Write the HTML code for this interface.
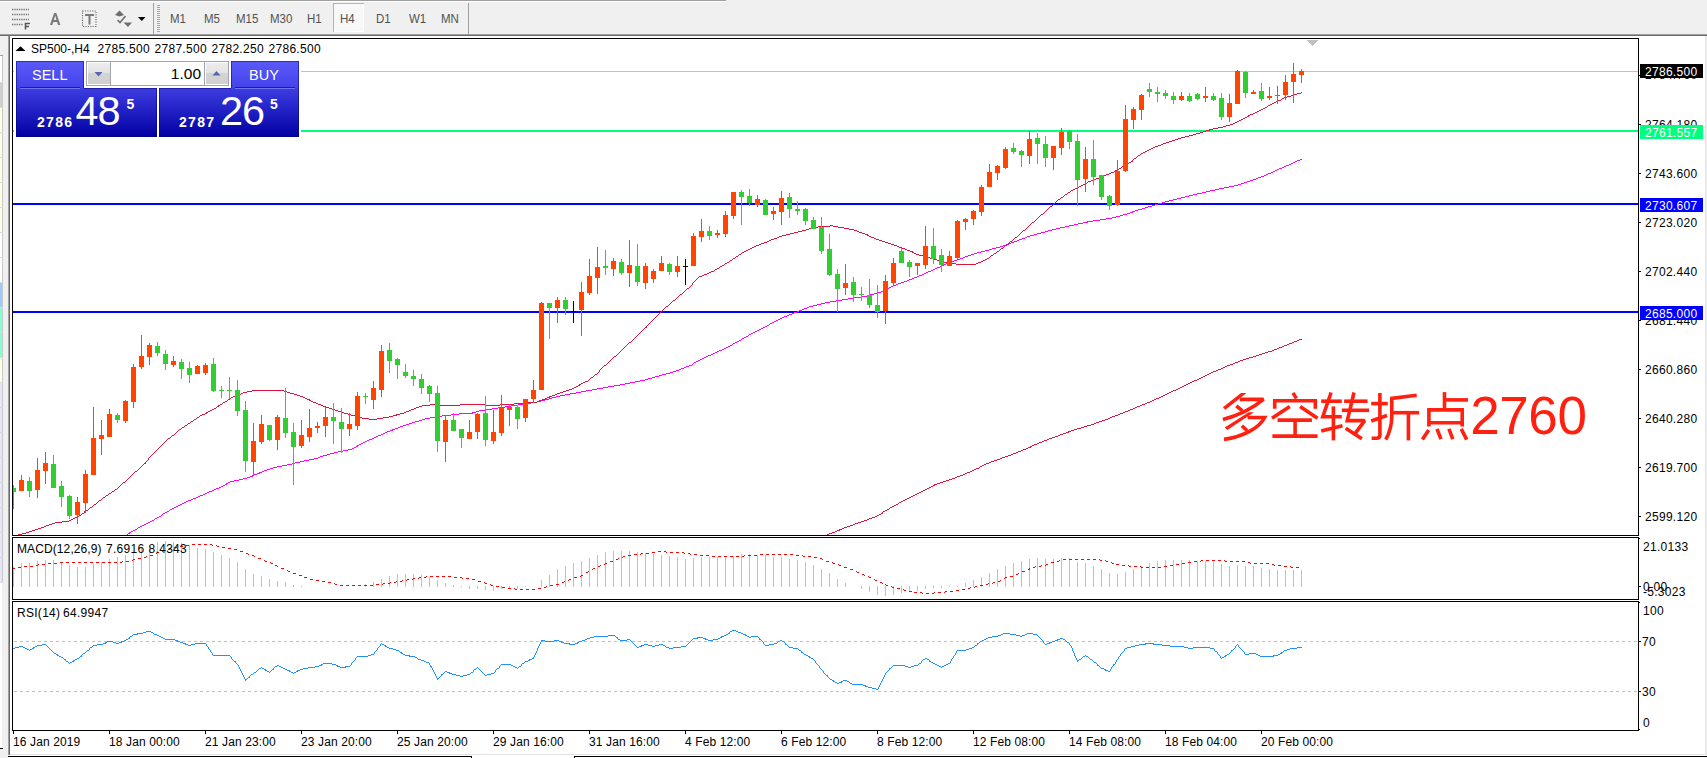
<!DOCTYPE html>
<html><head><meta charset="utf-8"><title>SP500-,H4</title>
<style>
html,body{margin:0;padding:0;background:#fff;}
body{width:1707px;height:758px;position:relative;overflow:hidden;font-family:"Liberation Sans",sans-serif;}
.abs{position:absolute;}
.t{position:absolute;white-space:nowrap;line-height:14px;font-family:"Liberation Sans",sans-serif;}
.ax{letter-spacing:0.29px;}
.bx{letter-spacing:0.29px;position:absolute;left:1640px;width:63px;color:#fff;font-size:12px;line-height:14px;}
.bx span{position:absolute;left:5px;top:1px;white-space:nowrap;}
#chart{position:absolute;left:0;top:0;}
.tb{position:absolute;top:0;height:22px;line-height:22px;font-size:12px;color:#555;text-align:center;}
</style></head>
<body>
<!-- toolbar -->
<div class="abs" style="left:0;top:0;width:1707px;height:34px;background:#f0f0f0"></div>
<div class="abs" style="left:0;top:0;width:726px;height:1px;background:#a0a0a0"></div>
<div class="abs" style="left:0;top:1px;width:726px;height:1px;background:#fff"></div>
<div class="abs" style="left:0;top:34px;width:1707px;height:1px;background:#a0a0a0"></div>
<div class="abs" style="left:0;top:35px;width:1707px;height:1px;background:#696969"></div>
<!-- left strip -->
<div class="abs" style="left:0;top:36px;width:8px;height:722px;background:#f0f0f0"></div>
<div class="abs" style="left:8px;top:36px;width:1px;height:720px;background:#a0a0a0"></div>
<div class="abs" style="left:9px;top:36px;width:1px;height:720px;background:#696969"></div>
<div class="abs" style="left:0;top:55px;width:3px;height:1px;background:#a0a0a0"></div>
<div class="abs" style="left:2px;top:56px;width:1px;height:527px;background:#c8c8c8"></div>
<div class="abs" style="left:0;top:583px;width:2px;height:165px;background:#fff"></div>
<div class="abs" style="left:0;top:56px;width:2px;height:26px;background:#fff"></div>
<div class="abs" style="left:0;top:82px;width:3px;height:1px;background:#d8d8d8"></div>
<div class="abs" style="left:0;top:83px;width:2px;height:24px;background:#d0d0d0"></div>
<div class="abs" style="left:0;top:107px;width:3px;height:1px;background:#d8d8d8"></div>
<div class="abs" style="left:0;top:108px;width:2px;height:24px;background:#ffffe1"></div>
<div class="abs" style="left:0;top:132px;width:3px;height:1px;background:#d8d8d8"></div>
<div class="abs" style="left:0;top:133px;width:2px;height:24px;background:#ffffe1"></div>
<div class="abs" style="left:0;top:157px;width:3px;height:1px;background:#d8d8d8"></div>
<div class="abs" style="left:0;top:158px;width:2px;height:24px;background:#ffffe1"></div>
<div class="abs" style="left:0;top:182px;width:3px;height:1px;background:#d8d8d8"></div>
<div class="abs" style="left:0;top:183px;width:2px;height:24px;background:#ffffe1"></div>
<div class="abs" style="left:0;top:207px;width:3px;height:1px;background:#d8d8d8"></div>
<div class="abs" style="left:0;top:208px;width:2px;height:24px;background:#ffffe1"></div>
<div class="abs" style="left:0;top:232px;width:3px;height:1px;background:#d8d8d8"></div>
<div class="abs" style="left:0;top:233px;width:2px;height:24px;background:#fff"></div>
<div class="abs" style="left:0;top:257px;width:3px;height:1px;background:#d8d8d8"></div>
<div class="abs" style="left:0;top:258px;width:2px;height:24px;background:#fff"></div>
<div class="abs" style="left:0;top:282px;width:3px;height:1px;background:#d8d8d8"></div>
<div class="abs" style="left:0;top:283px;width:2px;height:24px;background:#99ccff"></div>
<div class="abs" style="left:0;top:307px;width:3px;height:1px;background:#d8d8d8"></div>
<div class="abs" style="left:0;top:308px;width:2px;height:24px;background:#7fffd4"></div>
<div class="abs" style="left:0;top:332px;width:3px;height:1px;background:#d8d8d8"></div>
<div class="abs" style="left:0;top:333px;width:2px;height:24px;background:#7fffd4"></div>
<div class="abs" style="left:0;top:357px;width:3px;height:1px;background:#d8d8d8"></div>
<div class="abs" style="left:0;top:358px;width:2px;height:24px;background:#ffffe1"></div>
<div class="abs" style="left:0;top:382px;width:3px;height:1px;background:#d8d8d8"></div>
<div class="abs" style="left:0;top:383px;width:2px;height:24px;background:#e6e6fa"></div>
<div class="abs" style="left:0;top:407px;width:3px;height:1px;background:#d8d8d8"></div>
<div class="abs" style="left:0;top:408px;width:2px;height:24px;background:#e6e6fa"></div>
<div class="abs" style="left:0;top:432px;width:3px;height:1px;background:#d8d8d8"></div>
<div class="abs" style="left:0;top:433px;width:2px;height:24px;background:#e6e6fa"></div>
<div class="abs" style="left:0;top:457px;width:3px;height:1px;background:#d8d8d8"></div>
<div class="abs" style="left:0;top:458px;width:2px;height:24px;background:#e6e6fa"></div>
<div class="abs" style="left:0;top:482px;width:3px;height:1px;background:#d8d8d8"></div>
<div class="abs" style="left:0;top:483px;width:2px;height:24px;background:#e6e6fa"></div>
<div class="abs" style="left:0;top:507px;width:3px;height:1px;background:#d8d8d8"></div>
<div class="abs" style="left:0;top:508px;width:2px;height:24px;background:#e6e6fa"></div>
<div class="abs" style="left:0;top:532px;width:3px;height:1px;background:#d8d8d8"></div>
<div class="abs" style="left:0;top:533px;width:2px;height:24px;background:#e6e6fa"></div>
<div class="abs" style="left:0;top:557px;width:3px;height:1px;background:#d8d8d8"></div>
<div class="abs" style="left:0;top:558px;width:2px;height:24px;background:#e6e6fa"></div>
<div class="abs" style="left:0;top:582px;width:3px;height:1px;background:#d8d8d8"></div>
<div class="abs" style="left:0;top:748px;width:3px;height:1px;background:#000"></div>
<!-- right/bottom borders -->
<div class="abs" style="left:1705px;top:36px;width:1px;height:719px;background:#e3e3e3"></div>
<div class="abs" style="left:1706px;top:36px;width:1px;height:719px;background:#f0f0f0"></div>
<div class="abs" style="left:10px;top:754px;width:1696px;height:1px;background:#e3e3e3"></div>
<div class="abs" style="left:8px;top:755px;width:1699px;height:3px;background:#fff"></div>
<div class="abs" style="left:8px;top:756px;width:464px;height:1px;background:#000"></div>
<div class="abs" style="left:574px;top:756px;width:1133px;height:1px;background:#000"></div>
<div class="abs" style="left:471px;top:756px;width:1px;height:2px;background:#000"></div>
<div class="abs" style="left:574px;top:756px;width:1px;height:2px;background:#000"></div>
<svg id="chart" width="1707" height="758" viewBox="0 0 1707 758" shape-rendering="crispEdges">
<rect x="13" y="71" width="1625" height="1" fill="#c0c0c0"/>
<rect x="13" y="130" width="1625" height="2" fill="#00ff7f"/>
<rect x="13" y="203" width="1625" height="2" fill="#0000ff"/>
<rect x="13" y="311" width="1625" height="2" fill="#0000ff"/>
<rect x="13" y="567" width="1" height="20" fill="#c0c0c0"/>
<rect x="21" y="563" width="1" height="24" fill="#c0c0c0"/>
<rect x="29" y="563" width="1" height="24" fill="#c0c0c0"/>
<rect x="37" y="561" width="1" height="26" fill="#c0c0c0"/>
<rect x="45" y="560" width="1" height="27" fill="#c0c0c0"/>
<rect x="53" y="560" width="1" height="27" fill="#c0c0c0"/>
<rect x="61" y="563" width="1" height="24" fill="#c0c0c0"/>
<rect x="69" y="565" width="1" height="22" fill="#c0c0c0"/>
<rect x="77" y="567" width="1" height="20" fill="#c0c0c0"/>
<rect x="85" y="567" width="1" height="20" fill="#c0c0c0"/>
<rect x="93" y="564" width="1" height="23" fill="#c0c0c0"/>
<rect x="101" y="562" width="1" height="25" fill="#c0c0c0"/>
<rect x="109" y="559" width="1" height="28" fill="#c0c0c0"/>
<rect x="117" y="557" width="1" height="30" fill="#c0c0c0"/>
<rect x="125" y="555" width="1" height="32" fill="#c0c0c0"/>
<rect x="133" y="552" width="1" height="35" fill="#c0c0c0"/>
<rect x="141" y="549" width="1" height="38" fill="#c0c0c0"/>
<rect x="149" y="545" width="1" height="42" fill="#c0c0c0"/>
<rect x="157" y="542" width="1" height="45" fill="#c0c0c0"/>
<rect x="165" y="541" width="1" height="46" fill="#c0c0c0"/>
<rect x="173" y="542" width="1" height="45" fill="#c0c0c0"/>
<rect x="181" y="543" width="1" height="44" fill="#c0c0c0"/>
<rect x="189" y="545" width="1" height="42" fill="#c0c0c0"/>
<rect x="197" y="548" width="1" height="39" fill="#c0c0c0"/>
<rect x="205" y="549" width="1" height="38" fill="#c0c0c0"/>
<rect x="213" y="552" width="1" height="35" fill="#c0c0c0"/>
<rect x="221" y="555" width="1" height="32" fill="#c0c0c0"/>
<rect x="229" y="558" width="1" height="29" fill="#c0c0c0"/>
<rect x="237" y="562" width="1" height="25" fill="#c0c0c0"/>
<rect x="245" y="569" width="1" height="18" fill="#c0c0c0"/>
<rect x="253" y="574" width="1" height="13" fill="#c0c0c0"/>
<rect x="261" y="576" width="1" height="11" fill="#c0c0c0"/>
<rect x="269" y="579" width="1" height="8" fill="#c0c0c0"/>
<rect x="277" y="581" width="1" height="6" fill="#c0c0c0"/>
<rect x="285" y="582" width="1" height="5" fill="#c0c0c0"/>
<rect x="293" y="585" width="1" height="2" fill="#c0c0c0"/>
<rect x="301" y="586" width="1" height="1" fill="#c0c0c0"/>
<rect x="365" y="584" width="1" height="3" fill="#c0c0c0"/>
<rect x="373" y="582" width="1" height="5" fill="#c0c0c0"/>
<rect x="381" y="579" width="1" height="8" fill="#c0c0c0"/>
<rect x="389" y="576" width="1" height="11" fill="#c0c0c0"/>
<rect x="397" y="574" width="1" height="13" fill="#c0c0c0"/>
<rect x="405" y="574" width="1" height="13" fill="#c0c0c0"/>
<rect x="413" y="574" width="1" height="13" fill="#c0c0c0"/>
<rect x="421" y="575" width="1" height="12" fill="#c0c0c0"/>
<rect x="429" y="577" width="1" height="10" fill="#c0c0c0"/>
<rect x="437" y="580" width="1" height="7" fill="#c0c0c0"/>
<rect x="445" y="583" width="1" height="4" fill="#c0c0c0"/>
<rect x="453" y="585" width="1" height="2" fill="#c0c0c0"/>
<rect x="461" y="586" width="1" height="1" fill="#c0c0c0"/>
<rect x="469" y="586" width="1" height="3" fill="#c0c0c0"/>
<rect x="477" y="586" width="1" height="3" fill="#c0c0c0"/>
<rect x="485" y="586" width="1" height="4" fill="#c0c0c0"/>
<rect x="493" y="586" width="1" height="5" fill="#c0c0c0"/>
<rect x="501" y="586" width="1" height="3" fill="#c0c0c0"/>
<rect x="509" y="586" width="1" height="3" fill="#c0c0c0"/>
<rect x="517" y="586" width="1" height="3" fill="#c0c0c0"/>
<rect x="525" y="586" width="1" height="1" fill="#c0c0c0"/>
<rect x="541" y="580" width="1" height="7" fill="#c0c0c0"/>
<rect x="549" y="575" width="1" height="12" fill="#c0c0c0"/>
<rect x="557" y="569" width="1" height="18" fill="#c0c0c0"/>
<rect x="565" y="566" width="1" height="21" fill="#c0c0c0"/>
<rect x="573" y="563" width="1" height="24" fill="#c0c0c0"/>
<rect x="581" y="561" width="1" height="26" fill="#c0c0c0"/>
<rect x="589" y="558" width="1" height="29" fill="#c0c0c0"/>
<rect x="597" y="555" width="1" height="32" fill="#c0c0c0"/>
<rect x="605" y="552" width="1" height="35" fill="#c0c0c0"/>
<rect x="613" y="551" width="1" height="36" fill="#c0c0c0"/>
<rect x="621" y="551" width="1" height="36" fill="#c0c0c0"/>
<rect x="629" y="551" width="1" height="36" fill="#c0c0c0"/>
<rect x="637" y="552" width="1" height="35" fill="#c0c0c0"/>
<rect x="645" y="553" width="1" height="34" fill="#c0c0c0"/>
<rect x="653" y="554" width="1" height="33" fill="#c0c0c0"/>
<rect x="661" y="555" width="1" height="32" fill="#c0c0c0"/>
<rect x="669" y="556" width="1" height="31" fill="#c0c0c0"/>
<rect x="677" y="557" width="1" height="30" fill="#c0c0c0"/>
<rect x="685" y="559" width="1" height="28" fill="#c0c0c0"/>
<rect x="693" y="558" width="1" height="29" fill="#c0c0c0"/>
<rect x="701" y="557" width="1" height="30" fill="#c0c0c0"/>
<rect x="709" y="557" width="1" height="30" fill="#c0c0c0"/>
<rect x="717" y="557" width="1" height="30" fill="#c0c0c0"/>
<rect x="725" y="556" width="1" height="31" fill="#c0c0c0"/>
<rect x="733" y="556" width="1" height="31" fill="#c0c0c0"/>
<rect x="741" y="554" width="1" height="33" fill="#c0c0c0"/>
<rect x="749" y="554" width="1" height="33" fill="#c0c0c0"/>
<rect x="757" y="555" width="1" height="32" fill="#c0c0c0"/>
<rect x="765" y="555" width="1" height="32" fill="#c0c0c0"/>
<rect x="773" y="557" width="1" height="30" fill="#c0c0c0"/>
<rect x="781" y="557" width="1" height="30" fill="#c0c0c0"/>
<rect x="789" y="559" width="1" height="28" fill="#c0c0c0"/>
<rect x="797" y="560" width="1" height="27" fill="#c0c0c0"/>
<rect x="805" y="562" width="1" height="25" fill="#c0c0c0"/>
<rect x="813" y="565" width="1" height="22" fill="#c0c0c0"/>
<rect x="821" y="569" width="1" height="18" fill="#c0c0c0"/>
<rect x="829" y="573" width="1" height="14" fill="#c0c0c0"/>
<rect x="837" y="579" width="1" height="8" fill="#c0c0c0"/>
<rect x="845" y="583" width="1" height="4" fill="#c0c0c0"/>
<rect x="861" y="586" width="1" height="3" fill="#c0c0c0"/>
<rect x="869" y="586" width="1" height="6" fill="#c0c0c0"/>
<rect x="877" y="586" width="1" height="9" fill="#c0c0c0"/>
<rect x="885" y="586" width="1" height="10" fill="#c0c0c0"/>
<rect x="893" y="586" width="1" height="9" fill="#c0c0c0"/>
<rect x="901" y="586" width="1" height="7" fill="#c0c0c0"/>
<rect x="909" y="586" width="1" height="6" fill="#c0c0c0"/>
<rect x="917" y="586" width="1" height="5" fill="#c0c0c0"/>
<rect x="925" y="586" width="1" height="3" fill="#c0c0c0"/>
<rect x="933" y="586" width="1" height="2" fill="#c0c0c0"/>
<rect x="941" y="586" width="1" height="2" fill="#c0c0c0"/>
<rect x="949" y="586" width="1" height="1" fill="#c0c0c0"/>
<rect x="957" y="586" width="1" height="1" fill="#c0c0c0"/>
<rect x="965" y="583" width="1" height="4" fill="#c0c0c0"/>
<rect x="973" y="580" width="1" height="7" fill="#c0c0c0"/>
<rect x="981" y="577" width="1" height="10" fill="#c0c0c0"/>
<rect x="989" y="573" width="1" height="14" fill="#c0c0c0"/>
<rect x="997" y="569" width="1" height="18" fill="#c0c0c0"/>
<rect x="1005" y="566" width="1" height="21" fill="#c0c0c0"/>
<rect x="1013" y="563" width="1" height="24" fill="#c0c0c0"/>
<rect x="1021" y="561" width="1" height="26" fill="#c0c0c0"/>
<rect x="1029" y="559" width="1" height="28" fill="#c0c0c0"/>
<rect x="1037" y="558" width="1" height="29" fill="#c0c0c0"/>
<rect x="1045" y="559" width="1" height="28" fill="#c0c0c0"/>
<rect x="1053" y="559" width="1" height="28" fill="#c0c0c0"/>
<rect x="1061" y="558" width="1" height="29" fill="#c0c0c0"/>
<rect x="1069" y="558" width="1" height="29" fill="#c0c0c0"/>
<rect x="1077" y="562" width="1" height="25" fill="#c0c0c0"/>
<rect x="1085" y="563" width="1" height="24" fill="#c0c0c0"/>
<rect x="1093" y="566" width="1" height="21" fill="#c0c0c0"/>
<rect x="1101" y="569" width="1" height="18" fill="#c0c0c0"/>
<rect x="1109" y="573" width="1" height="14" fill="#c0c0c0"/>
<rect x="1117" y="574" width="1" height="13" fill="#c0c0c0"/>
<rect x="1125" y="572" width="1" height="15" fill="#c0c0c0"/>
<rect x="1133" y="569" width="1" height="18" fill="#c0c0c0"/>
<rect x="1141" y="566" width="1" height="21" fill="#c0c0c0"/>
<rect x="1149" y="563" width="1" height="24" fill="#c0c0c0"/>
<rect x="1157" y="561" width="1" height="26" fill="#c0c0c0"/>
<rect x="1165" y="560" width="1" height="27" fill="#c0c0c0"/>
<rect x="1173" y="560" width="1" height="27" fill="#c0c0c0"/>
<rect x="1181" y="560" width="1" height="27" fill="#c0c0c0"/>
<rect x="1189" y="560" width="1" height="27" fill="#c0c0c0"/>
<rect x="1197" y="561" width="1" height="26" fill="#c0c0c0"/>
<rect x="1205" y="561" width="1" height="26" fill="#c0c0c0"/>
<rect x="1213" y="562" width="1" height="25" fill="#c0c0c0"/>
<rect x="1221" y="564" width="1" height="23" fill="#c0c0c0"/>
<rect x="1229" y="566" width="1" height="21" fill="#c0c0c0"/>
<rect x="1237" y="565" width="1" height="22" fill="#c0c0c0"/>
<rect x="1245" y="566" width="1" height="21" fill="#c0c0c0"/>
<rect x="1253" y="566" width="1" height="21" fill="#c0c0c0"/>
<rect x="1261" y="568" width="1" height="19" fill="#c0c0c0"/>
<rect x="1269" y="569" width="1" height="18" fill="#c0c0c0"/>
<rect x="1277" y="570" width="1" height="17" fill="#c0c0c0"/>
<rect x="1285" y="570" width="1" height="17" fill="#c0c0c0"/>
<rect x="1293" y="570" width="1" height="17" fill="#c0c0c0"/>
<rect x="1301" y="570" width="1" height="17" fill="#c0c0c0"/>
<path d="M192 544h3v1h-3zM198 544h3v1h-3zM204 544h3v1h-3zM210 544h2v1h-2zM186 545h3v1h-3zM212 545h1v1h-1zM216 545h1v1h-1zM180 546h3v1h-3zM217 546h2v1h-2zM174 547h3v1h-3zM222 547h3v1h-3zM170 548h1v1h-1zM228 548h3v1h-3zM168 549h2v1h-2zM234 549h3v1h-3zM163 550h2v1h-2zM162 551h1v1h-1zM240 551h3v1h-3zM658 551h3v1h-3zM664 551h2v1h-2zM157 552h2v1h-2zM652 552h3v1h-3zM666 552h1v1h-1zM670 552h3v1h-3zM676 552h3v1h-3zM682 552h2v1h-2zM156 553h1v1h-1zM246 553h2v1h-2zM641 553h2v1h-2zM646 553h3v1h-3zM684 553h1v1h-1zM688 553h2v1h-2zM248 554h1v1h-1zM634 554h3v1h-3zM640 554h1v1h-1zM690 554h1v1h-1zM694 554h3v1h-3zM760 554h3v1h-3zM766 554h3v1h-3zM772 554h3v1h-3zM778 554h3v1h-3zM784 554h3v1h-3zM790 554h3v1h-3zM150 555h3v1h-3zM252 555h2v1h-2zM628 555h3v1h-3zM700 555h3v1h-3zM706 555h3v1h-3zM744 555h1v1h-1zM748 555h3v1h-3zM754 555h3v1h-3zM796 555h3v1h-3zM802 555h1v1h-1zM146 556h1v1h-1zM254 556h1v1h-1zM623 556h2v1h-2zM712 556h3v1h-3zM718 556h3v1h-3zM724 556h3v1h-3zM730 556h3v1h-3zM736 556h3v1h-3zM742 556h2v1h-2zM803 556h2v1h-2zM808 556h3v1h-3zM144 557h2v1h-2zM622 557h1v1h-1zM814 557h3v1h-3zM138 558h3v1h-3zM258 558h3v1h-3zM618 558h1v1h-1zM820 558h2v1h-2zM133 559h2v1h-2zM616 559h2v1h-2zM822 559h1v1h-1zM1063 559h3v1h-3zM1069 559h3v1h-3zM1075 559h3v1h-3zM1081 559h3v1h-3zM1087 559h3v1h-3zM1093 559h3v1h-3zM1099 559h1v1h-1zM132 560h1v1h-1zM264 560h1v1h-1zM1059 560h1v1h-1zM1100 560h2v1h-2zM1105 560h1v1h-1zM1201 560h2v1h-2zM1206 560h3v1h-3zM1212 560h3v1h-3zM1218 560h3v1h-3zM1224 560h1v1h-1zM122 561h1v1h-1zM126 561h3v1h-3zM265 561h2v1h-2zM610 561h3v1h-3zM826 561h3v1h-3zM1057 561h2v1h-2zM1106 561h2v1h-2zM1194 561h3v1h-3zM1200 561h1v1h-1zM1225 561h2v1h-2zM1230 561h3v1h-3zM1236 561h3v1h-3zM1242 561h3v1h-3zM60 562h3v1h-3zM66 562h3v1h-3zM72 562h3v1h-3zM78 562h3v1h-3zM84 562h3v1h-3zM90 562h3v1h-3zM96 562h3v1h-3zM102 562h3v1h-3zM108 562h3v1h-3zM114 562h3v1h-3zM120 562h2v1h-2zM270 562h1v1h-1zM832 562h1v1h-1zM1051 562h3v1h-3zM1111 562h1v1h-1zM1188 562h3v1h-3zM1248 562h2v1h-2zM48 563h3v1h-3zM54 563h3v1h-3zM271 563h2v1h-2zM605 563h2v1h-2zM833 563h2v1h-2zM1112 563h2v1h-2zM1182 563h3v1h-3zM1250 563h1v1h-1zM1254 563h3v1h-3zM1260 563h3v1h-3zM1266 563h3v1h-3zM38 564h1v1h-1zM42 564h3v1h-3zM604 564h1v1h-1zM838 564h1v1h-1zM1046 564h2v1h-2zM1116 564h3v1h-3zM1176 564h3v1h-3zM1272 564h2v1h-2zM36 565h2v1h-2zM275 565h2v1h-2zM600 565h1v1h-1zM839 565h2v1h-2zM1041 565h1v1h-1zM1045 565h1v1h-1zM1122 565h3v1h-3zM1128 565h1v1h-1zM1170 565h3v1h-3zM1274 565h1v1h-1zM1278 565h3v1h-3zM24 566h3v1h-3zM30 566h3v1h-3zM277 566h1v1h-1zM598 566h2v1h-2zM1035 566h1v1h-1zM1039 566h2v1h-2zM1129 566h2v1h-2zM1134 566h3v1h-3zM1140 566h1v1h-1zM1164 566h3v1h-3zM1284 566h3v1h-3zM1290 566h1v1h-1zM18 567h3v1h-3zM844 567h3v1h-3zM1033 567h2v1h-2zM1141 567h2v1h-2zM1146 567h3v1h-3zM1152 567h3v1h-3zM1158 567h3v1h-3zM1291 567h2v1h-2zM1296 567h3v1h-3zM13 568h2v1h-2zM281 568h3v1h-3zM593 568h2v1h-2zM1029 568h1v1h-1zM592 569h1v1h-1zM850 569h3v1h-3zM1028 569h2v1h-2zM287 570h1v1h-1zM288 571h2v1h-2zM588 571h1v1h-1zM856 571h1v1h-1zM1022 571h3v1h-3zM586 572h2v1h-2zM857 572h2v1h-2zM293 573h3v1h-3zM1018 573h1v1h-1zM862 574h2v1h-2zM1016 574h2v1h-2zM299 575h3v1h-3zM581 575h2v1h-2zM864 575h1v1h-1zM426 576h1v1h-1zM430 576h3v1h-3zM436 576h3v1h-3zM442 576h3v1h-3zM448 576h3v1h-3zM580 576h1v1h-1zM868 576h1v1h-1zM1010 576h3v1h-3zM304 577h3v1h-3zM419 577h2v1h-2zM424 577h2v1h-2zM454 577h3v1h-3zM460 577h2v1h-2zM574 577h3v1h-3zM869 577h2v1h-2zM1005 577h2v1h-2zM413 578h2v1h-2zM418 578h1v1h-1zM462 578h1v1h-1zM466 578h3v1h-3zM1004 578h1v1h-1zM310 579h3v1h-3zM407 579h2v1h-2zM412 579h1v1h-1zM472 579h3v1h-3zM569 579h2v1h-2zM874 579h1v1h-1zM316 580h3v1h-3zM402 580h1v1h-1zM406 580h1v1h-1zM568 580h1v1h-1zM875 580h2v1h-2zM1000 580h1v1h-1zM322 581h3v1h-3zM396 581h1v1h-1zM400 581h2v1h-2zM478 581h3v1h-3zM564 581h1v1h-1zM998 581h2v1h-2zM328 582h3v1h-3zM390 582h1v1h-1zM394 582h2v1h-2zM484 582h1v1h-1zM562 582h2v1h-2zM880 582h2v1h-2zM993 582h2v1h-2zM334 583h1v1h-1zM383 583h2v1h-2zM388 583h2v1h-2zM485 583h2v1h-2zM882 583h1v1h-1zM988 583h1v1h-1zM992 583h1v1h-1zM335 584h2v1h-2zM376 584h3v1h-3zM382 584h1v1h-1zM490 584h1v1h-1zM556 584h3v1h-3zM885 584h1v1h-1zM986 584h2v1h-2zM340 585h3v1h-3zM346 585h3v1h-3zM352 585h3v1h-3zM358 585h3v1h-3zM364 585h3v1h-3zM370 585h3v1h-3zM491 585h2v1h-2zM550 585h3v1h-3zM886 585h2v1h-2zM980 585h3v1h-3zM496 586h3v1h-3zM546 586h1v1h-1zM891 586h1v1h-1zM975 586h2v1h-2zM502 587h3v1h-3zM544 587h2v1h-2zM892 587h2v1h-2zM970 587h1v1h-1zM974 587h1v1h-1zM508 588h3v1h-3zM514 588h1v1h-1zM538 588h3v1h-3zM897 588h3v1h-3zM968 588h2v1h-2zM515 589h2v1h-2zM520 589h3v1h-3zM526 589h3v1h-3zM532 589h3v1h-3zM903 589h1v1h-1zM962 589h3v1h-3zM904 590h2v1h-2zM956 590h3v1h-3zM909 591h3v1h-3zM945 591h2v1h-2zM950 591h3v1h-3zM914 592h3v1h-3zM920 592h2v1h-2zM934 592h1v1h-1zM938 592h3v1h-3zM944 592h1v1h-1zM922 593h1v1h-1zM926 593h3v1h-3zM932 593h2v1h-2z" fill="#ff0000"/>
<path d="M14 641h3v1h-3zM20 641h3v1h-3zM26 641h3v1h-3zM32 641h3v1h-3zM38 641h3v1h-3zM44 641h3v1h-3zM50 641h3v1h-3zM56 641h3v1h-3zM62 641h3v1h-3zM68 641h3v1h-3zM74 641h3v1h-3zM80 641h3v1h-3zM86 641h3v1h-3zM92 641h3v1h-3zM98 641h3v1h-3zM104 641h3v1h-3zM110 641h3v1h-3zM116 641h3v1h-3zM122 641h3v1h-3zM128 641h3v1h-3zM134 641h3v1h-3zM140 641h3v1h-3zM146 641h3v1h-3zM152 641h3v1h-3zM158 641h3v1h-3zM164 641h3v1h-3zM170 641h3v1h-3zM176 641h3v1h-3zM182 641h3v1h-3zM188 641h3v1h-3zM194 641h3v1h-3zM200 641h3v1h-3zM206 641h3v1h-3zM212 641h3v1h-3zM218 641h3v1h-3zM224 641h3v1h-3zM230 641h3v1h-3zM236 641h3v1h-3zM242 641h3v1h-3zM248 641h3v1h-3zM254 641h3v1h-3zM260 641h3v1h-3zM266 641h3v1h-3zM272 641h3v1h-3zM278 641h3v1h-3zM284 641h3v1h-3zM290 641h3v1h-3zM296 641h3v1h-3zM302 641h3v1h-3zM308 641h3v1h-3zM314 641h3v1h-3zM320 641h3v1h-3zM326 641h3v1h-3zM332 641h3v1h-3zM338 641h3v1h-3zM344 641h3v1h-3zM350 641h3v1h-3zM356 641h3v1h-3zM362 641h3v1h-3zM368 641h3v1h-3zM374 641h3v1h-3zM380 641h3v1h-3zM386 641h3v1h-3zM392 641h3v1h-3zM398 641h3v1h-3zM404 641h3v1h-3zM410 641h3v1h-3zM416 641h3v1h-3zM422 641h3v1h-3zM428 641h3v1h-3zM434 641h3v1h-3zM440 641h3v1h-3zM446 641h3v1h-3zM452 641h3v1h-3zM458 641h3v1h-3zM464 641h3v1h-3zM470 641h3v1h-3zM476 641h3v1h-3zM482 641h3v1h-3zM488 641h3v1h-3zM494 641h3v1h-3zM500 641h3v1h-3zM506 641h3v1h-3zM512 641h3v1h-3zM518 641h3v1h-3zM524 641h3v1h-3zM530 641h3v1h-3zM536 641h3v1h-3zM542 641h3v1h-3zM548 641h3v1h-3zM554 641h3v1h-3zM560 641h3v1h-3zM566 641h3v1h-3zM572 641h3v1h-3zM578 641h3v1h-3zM584 641h3v1h-3zM590 641h3v1h-3zM596 641h3v1h-3zM602 641h3v1h-3zM608 641h3v1h-3zM614 641h3v1h-3zM620 641h3v1h-3zM626 641h3v1h-3zM632 641h3v1h-3zM638 641h3v1h-3zM644 641h3v1h-3zM650 641h3v1h-3zM656 641h3v1h-3zM662 641h3v1h-3zM668 641h3v1h-3zM674 641h3v1h-3zM680 641h3v1h-3zM686 641h3v1h-3zM692 641h3v1h-3zM698 641h3v1h-3zM704 641h3v1h-3zM710 641h3v1h-3zM716 641h3v1h-3zM722 641h3v1h-3zM728 641h3v1h-3zM734 641h3v1h-3zM740 641h3v1h-3zM746 641h3v1h-3zM752 641h3v1h-3zM758 641h3v1h-3zM764 641h3v1h-3zM770 641h3v1h-3zM776 641h3v1h-3zM782 641h3v1h-3zM788 641h3v1h-3zM794 641h3v1h-3zM800 641h3v1h-3zM806 641h3v1h-3zM812 641h3v1h-3zM818 641h3v1h-3zM824 641h3v1h-3zM830 641h3v1h-3zM836 641h3v1h-3zM842 641h3v1h-3zM848 641h3v1h-3zM854 641h3v1h-3zM860 641h3v1h-3zM866 641h3v1h-3zM872 641h3v1h-3zM878 641h3v1h-3zM884 641h3v1h-3zM890 641h3v1h-3zM896 641h3v1h-3zM902 641h3v1h-3zM908 641h3v1h-3zM914 641h3v1h-3zM920 641h3v1h-3zM926 641h3v1h-3zM932 641h3v1h-3zM938 641h3v1h-3zM944 641h3v1h-3zM950 641h3v1h-3zM956 641h3v1h-3zM962 641h3v1h-3zM968 641h3v1h-3zM974 641h3v1h-3zM980 641h3v1h-3zM986 641h3v1h-3zM992 641h3v1h-3zM998 641h3v1h-3zM1004 641h3v1h-3zM1010 641h3v1h-3zM1016 641h3v1h-3zM1022 641h3v1h-3zM1028 641h3v1h-3zM1034 641h3v1h-3zM1040 641h3v1h-3zM1046 641h3v1h-3zM1052 641h3v1h-3zM1058 641h3v1h-3zM1064 641h3v1h-3zM1070 641h3v1h-3zM1076 641h3v1h-3zM1082 641h3v1h-3zM1088 641h3v1h-3zM1094 641h3v1h-3zM1100 641h3v1h-3zM1106 641h3v1h-3zM1112 641h3v1h-3zM1118 641h3v1h-3zM1124 641h3v1h-3zM1130 641h3v1h-3zM1136 641h3v1h-3zM1142 641h3v1h-3zM1148 641h3v1h-3zM1154 641h3v1h-3zM1160 641h3v1h-3zM1166 641h3v1h-3zM1172 641h3v1h-3zM1178 641h3v1h-3zM1184 641h3v1h-3zM1190 641h3v1h-3zM1196 641h3v1h-3zM1202 641h3v1h-3zM1208 641h3v1h-3zM1214 641h3v1h-3zM1220 641h3v1h-3zM1226 641h3v1h-3zM1232 641h3v1h-3zM1238 641h3v1h-3zM1244 641h3v1h-3zM1250 641h3v1h-3zM1256 641h3v1h-3zM1262 641h3v1h-3zM1268 641h3v1h-3zM1274 641h3v1h-3zM1280 641h3v1h-3zM1286 641h3v1h-3zM1292 641h3v1h-3zM1298 641h3v1h-3zM1304 641h3v1h-3zM1310 641h3v1h-3zM1316 641h3v1h-3zM1322 641h3v1h-3zM1328 641h3v1h-3zM1334 641h3v1h-3zM1340 641h3v1h-3zM1346 641h3v1h-3zM1352 641h3v1h-3zM1358 641h3v1h-3zM1364 641h3v1h-3zM1370 641h3v1h-3zM1376 641h3v1h-3zM1382 641h3v1h-3zM1388 641h3v1h-3zM1394 641h3v1h-3zM1400 641h3v1h-3zM1406 641h3v1h-3zM1412 641h3v1h-3zM1418 641h3v1h-3zM1424 641h3v1h-3zM1430 641h3v1h-3zM1436 641h3v1h-3zM1442 641h3v1h-3zM1448 641h3v1h-3zM1454 641h3v1h-3zM1460 641h3v1h-3zM1466 641h3v1h-3zM1472 641h3v1h-3zM1478 641h3v1h-3zM1484 641h3v1h-3zM1490 641h3v1h-3zM1496 641h3v1h-3zM1502 641h3v1h-3zM1508 641h3v1h-3zM1514 641h3v1h-3zM1520 641h3v1h-3zM1526 641h3v1h-3zM1532 641h3v1h-3zM1538 641h3v1h-3zM1544 641h3v1h-3zM1550 641h3v1h-3zM1556 641h3v1h-3zM1562 641h3v1h-3zM1568 641h3v1h-3zM1574 641h3v1h-3zM1580 641h3v1h-3zM1586 641h3v1h-3zM1592 641h3v1h-3zM1598 641h3v1h-3zM1604 641h3v1h-3zM1610 641h3v1h-3zM1616 641h3v1h-3zM1622 641h3v1h-3zM1628 641h3v1h-3zM1634 641h3v1h-3z" fill="#c0c0c0"/>
<path d="M14 691h3v1h-3zM20 691h3v1h-3zM26 691h3v1h-3zM32 691h3v1h-3zM38 691h3v1h-3zM44 691h3v1h-3zM50 691h3v1h-3zM56 691h3v1h-3zM62 691h3v1h-3zM68 691h3v1h-3zM74 691h3v1h-3zM80 691h3v1h-3zM86 691h3v1h-3zM92 691h3v1h-3zM98 691h3v1h-3zM104 691h3v1h-3zM110 691h3v1h-3zM116 691h3v1h-3zM122 691h3v1h-3zM128 691h3v1h-3zM134 691h3v1h-3zM140 691h3v1h-3zM146 691h3v1h-3zM152 691h3v1h-3zM158 691h3v1h-3zM164 691h3v1h-3zM170 691h3v1h-3zM176 691h3v1h-3zM182 691h3v1h-3zM188 691h3v1h-3zM194 691h3v1h-3zM200 691h3v1h-3zM206 691h3v1h-3zM212 691h3v1h-3zM218 691h3v1h-3zM224 691h3v1h-3zM230 691h3v1h-3zM236 691h3v1h-3zM242 691h3v1h-3zM248 691h3v1h-3zM254 691h3v1h-3zM260 691h3v1h-3zM266 691h3v1h-3zM272 691h3v1h-3zM278 691h3v1h-3zM284 691h3v1h-3zM290 691h3v1h-3zM296 691h3v1h-3zM302 691h3v1h-3zM308 691h3v1h-3zM314 691h3v1h-3zM320 691h3v1h-3zM326 691h3v1h-3zM332 691h3v1h-3zM338 691h3v1h-3zM344 691h3v1h-3zM350 691h3v1h-3zM356 691h3v1h-3zM362 691h3v1h-3zM368 691h3v1h-3zM374 691h3v1h-3zM380 691h3v1h-3zM386 691h3v1h-3zM392 691h3v1h-3zM398 691h3v1h-3zM404 691h3v1h-3zM410 691h3v1h-3zM416 691h3v1h-3zM422 691h3v1h-3zM428 691h3v1h-3zM434 691h3v1h-3zM440 691h3v1h-3zM446 691h3v1h-3zM452 691h3v1h-3zM458 691h3v1h-3zM464 691h3v1h-3zM470 691h3v1h-3zM476 691h3v1h-3zM482 691h3v1h-3zM488 691h3v1h-3zM494 691h3v1h-3zM500 691h3v1h-3zM506 691h3v1h-3zM512 691h3v1h-3zM518 691h3v1h-3zM524 691h3v1h-3zM530 691h3v1h-3zM536 691h3v1h-3zM542 691h3v1h-3zM548 691h3v1h-3zM554 691h3v1h-3zM560 691h3v1h-3zM566 691h3v1h-3zM572 691h3v1h-3zM578 691h3v1h-3zM584 691h3v1h-3zM590 691h3v1h-3zM596 691h3v1h-3zM602 691h3v1h-3zM608 691h3v1h-3zM614 691h3v1h-3zM620 691h3v1h-3zM626 691h3v1h-3zM632 691h3v1h-3zM638 691h3v1h-3zM644 691h3v1h-3zM650 691h3v1h-3zM656 691h3v1h-3zM662 691h3v1h-3zM668 691h3v1h-3zM674 691h3v1h-3zM680 691h3v1h-3zM686 691h3v1h-3zM692 691h3v1h-3zM698 691h3v1h-3zM704 691h3v1h-3zM710 691h3v1h-3zM716 691h3v1h-3zM722 691h3v1h-3zM728 691h3v1h-3zM734 691h3v1h-3zM740 691h3v1h-3zM746 691h3v1h-3zM752 691h3v1h-3zM758 691h3v1h-3zM764 691h3v1h-3zM770 691h3v1h-3zM776 691h3v1h-3zM782 691h3v1h-3zM788 691h3v1h-3zM794 691h3v1h-3zM800 691h3v1h-3zM806 691h3v1h-3zM812 691h3v1h-3zM818 691h3v1h-3zM824 691h3v1h-3zM830 691h3v1h-3zM836 691h3v1h-3zM842 691h3v1h-3zM848 691h3v1h-3zM854 691h3v1h-3zM860 691h3v1h-3zM866 691h3v1h-3zM872 691h3v1h-3zM878 691h3v1h-3zM884 691h3v1h-3zM890 691h3v1h-3zM896 691h3v1h-3zM902 691h3v1h-3zM908 691h3v1h-3zM914 691h3v1h-3zM920 691h3v1h-3zM926 691h3v1h-3zM932 691h3v1h-3zM938 691h3v1h-3zM944 691h3v1h-3zM950 691h3v1h-3zM956 691h3v1h-3zM962 691h3v1h-3zM968 691h3v1h-3zM974 691h3v1h-3zM980 691h3v1h-3zM986 691h3v1h-3zM992 691h3v1h-3zM998 691h3v1h-3zM1004 691h3v1h-3zM1010 691h3v1h-3zM1016 691h3v1h-3zM1022 691h3v1h-3zM1028 691h3v1h-3zM1034 691h3v1h-3zM1040 691h3v1h-3zM1046 691h3v1h-3zM1052 691h3v1h-3zM1058 691h3v1h-3zM1064 691h3v1h-3zM1070 691h3v1h-3zM1076 691h3v1h-3zM1082 691h3v1h-3zM1088 691h3v1h-3zM1094 691h3v1h-3zM1100 691h3v1h-3zM1106 691h3v1h-3zM1112 691h3v1h-3zM1118 691h3v1h-3zM1124 691h3v1h-3zM1130 691h3v1h-3zM1136 691h3v1h-3zM1142 691h3v1h-3zM1148 691h3v1h-3zM1154 691h3v1h-3zM1160 691h3v1h-3zM1166 691h3v1h-3zM1172 691h3v1h-3zM1178 691h3v1h-3zM1184 691h3v1h-3zM1190 691h3v1h-3zM1196 691h3v1h-3zM1202 691h3v1h-3zM1208 691h3v1h-3zM1214 691h3v1h-3zM1220 691h3v1h-3zM1226 691h3v1h-3zM1232 691h3v1h-3zM1238 691h3v1h-3zM1244 691h3v1h-3zM1250 691h3v1h-3zM1256 691h3v1h-3zM1262 691h3v1h-3zM1268 691h3v1h-3zM1274 691h3v1h-3zM1280 691h3v1h-3zM1286 691h3v1h-3zM1292 691h3v1h-3zM1298 691h3v1h-3zM1304 691h3v1h-3zM1310 691h3v1h-3zM1316 691h3v1h-3zM1322 691h3v1h-3zM1328 691h3v1h-3zM1334 691h3v1h-3zM1340 691h3v1h-3zM1346 691h3v1h-3zM1352 691h3v1h-3zM1358 691h3v1h-3zM1364 691h3v1h-3zM1370 691h3v1h-3zM1376 691h3v1h-3zM1382 691h3v1h-3zM1388 691h3v1h-3zM1394 691h3v1h-3zM1400 691h3v1h-3zM1406 691h3v1h-3zM1412 691h3v1h-3zM1418 691h3v1h-3zM1424 691h3v1h-3zM1430 691h3v1h-3zM1436 691h3v1h-3zM1442 691h3v1h-3zM1448 691h3v1h-3zM1454 691h3v1h-3zM1460 691h3v1h-3zM1466 691h3v1h-3zM1472 691h3v1h-3zM1478 691h3v1h-3zM1484 691h3v1h-3zM1490 691h3v1h-3zM1496 691h3v1h-3zM1502 691h3v1h-3zM1508 691h3v1h-3zM1514 691h3v1h-3zM1520 691h3v1h-3zM1526 691h3v1h-3zM1532 691h3v1h-3zM1538 691h3v1h-3zM1544 691h3v1h-3zM1550 691h3v1h-3zM1556 691h3v1h-3zM1562 691h3v1h-3zM1568 691h3v1h-3zM1574 691h3v1h-3zM1580 691h3v1h-3zM1586 691h3v1h-3zM1592 691h3v1h-3zM1598 691h3v1h-3zM1604 691h3v1h-3zM1610 691h3v1h-3zM1616 691h3v1h-3zM1622 691h3v1h-3zM1628 691h3v1h-3zM1634 691h3v1h-3z" fill="#c0c0c0"/>
<path d="M732 630h4v1h-4zM146 631h5v1h-5zM730 631h2v1h-2zM736 631h2v1h-2zM143 632h3v1h-3zM151 632h2v1h-2zM729 632h1v1h-1zM738 632h3v1h-3zM137 633h6v1h-6zM153 633h1v1h-1zM728 633h2v1h-2zM741 633h2v1h-2zM1003 633h7v1h-7zM1027 633h6v1h-6zM133 634h5v1h-5zM154 634h3v1h-3zM726 634h2v1h-2zM743 634h3v1h-3zM1001 634h2v1h-2zM1010 634h6v1h-6zM1025 634h2v1h-2zM1033 634h4v1h-4zM132 635h1v1h-1zM157 635h2v1h-2zM608 635h7v1h-7zM724 635h2v1h-2zM745 635h2v1h-2zM998 635h3v1h-3zM1016 635h4v1h-4zM1022 635h3v1h-3zM1037 635h1v1h-1zM130 636h2v1h-2zM159 636h2v1h-2zM594 636h14v1h-14zM615 636h1v1h-1zM721 636h3v1h-3zM747 636h2v1h-2zM751 636h7v1h-7zM992 636h6v1h-6zM1020 636h2v1h-2zM1038 636h1v1h-1zM129 637h1v1h-1zM161 637h2v1h-2zM590 637h4v1h-4zM616 637h2v1h-2zM697 637h6v1h-6zM720 637h2v1h-2zM749 637h2v1h-2zM758 637h1v1h-1zM988 637h4v1h-4zM1039 637h1v1h-1zM128 638h2v1h-2zM163 638h2v1h-2zM587 638h3v1h-3zM617 638h1v1h-1zM693 638h5v1h-5zM703 638h3v1h-3zM718 638h2v1h-2zM759 638h1v1h-1zM986 638h2v1h-2zM1040 638h1v1h-1zM1060 638h3v1h-3zM126 639h2v1h-2zM165 639h10v1h-10zM585 639h2v1h-2zM618 639h2v1h-2zM627 639h3v1h-3zM692 639h1v1h-1zM705 639h3v1h-3zM713 639h5v1h-5zM759 639h2v1h-2zM984 639h2v1h-2zM1041 639h1v1h-1zM1057 639h3v1h-3zM1063 639h2v1h-2zM124 640h2v1h-2zM175 640h3v1h-3zM541 640h4v1h-4zM554 640h5v1h-5zM582 640h3v1h-3zM620 640h7v1h-7zM630 640h1v1h-1zM691 640h1v1h-1zM708 640h5v1h-5zM761 640h1v1h-1zM780 640h2v1h-2zM982 640h2v1h-2zM1042 640h1v1h-1zM1055 640h3v1h-3zM1065 640h1v1h-1zM107 641h6v1h-6zM121 641h3v1h-3zM177 641h3v1h-3zM541 641h1v1h-1zM545 641h9v1h-9zM559 641h3v1h-3zM579 641h3v1h-3zM631 641h1v1h-1zM690 641h1v1h-1zM762 641h1v1h-1zM778 641h2v1h-2zM782 641h2v1h-2zM980 641h2v1h-2zM1043 641h1v1h-1zM1052 641h3v1h-3zM1066 641h1v1h-1zM105 642h2v1h-2zM113 642h3v1h-3zM119 642h3v1h-3zM180 642h3v1h-3zM540 642h1v1h-1zM561 642h3v1h-3zM577 642h2v1h-2zM632 642h1v1h-1zM689 642h1v1h-1zM763 642h1v1h-1zM777 642h1v1h-1zM784 642h1v1h-1zM979 642h1v1h-1zM1043 642h1v1h-1zM1049 642h3v1h-3zM1067 642h2v1h-2zM103 643h3v1h-3zM116 643h3v1h-3zM183 643h3v1h-3zM195 643h11v1h-11zM381 643h1v1h-1zM540 643h1v1h-1zM564 643h6v1h-6zM575 643h3v1h-3zM633 643h1v1h-1zM688 643h1v1h-1zM763 643h1v1h-1zM774 643h3v1h-3zM785 643h1v1h-1zM977 643h2v1h-2zM1044 643h1v1h-1zM1047 643h3v1h-3zM1069 643h1v1h-1zM1145 643h9v1h-9zM42 644h4v1h-4zM97 644h6v1h-6zM185 644h3v1h-3zM191 644h4v1h-4zM206 644h1v1h-1zM380 644h1v1h-1zM382 644h2v1h-2zM539 644h1v1h-1zM569 644h6v1h-6zM634 644h1v1h-1zM644 644h4v1h-4zM659 644h4v1h-4zM687 644h1v1h-1zM764 644h1v1h-1zM769 644h5v1h-5zM785 644h2v1h-2zM977 644h1v1h-1zM1045 644h2v1h-2zM1069 644h1v1h-1zM1139 644h7v1h-7zM1153 644h9v1h-9zM1237 644h1v1h-1zM37 645h5v1h-5zM46 645h1v1h-1zM93 645h4v1h-4zM188 645h3v1h-3zM206 645h1v1h-1zM380 645h1v1h-1zM384 645h2v1h-2zM539 645h1v1h-1zM635 645h1v1h-1zM641 645h3v1h-3zM648 645h4v1h-4zM655 645h4v1h-4zM663 645h2v1h-2zM686 645h1v1h-1zM765 645h4v1h-4zM787 645h1v1h-1zM975 645h2v1h-2zM1070 645h1v1h-1zM1135 645h4v1h-4zM1162 645h8v1h-8zM1236 645h1v1h-1zM1238 645h1v1h-1zM19 646h4v1h-4zM35 646h2v1h-2zM47 646h1v1h-1zM92 646h1v1h-1zM207 646h1v1h-1zM379 646h1v1h-1zM385 646h2v1h-2zM538 646h1v1h-1zM636 646h1v1h-1zM639 646h3v1h-3zM652 646h3v1h-3zM665 646h1v1h-1zM681 646h5v1h-5zM788 646h1v1h-1zM974 646h1v1h-1zM1071 646h1v1h-1zM1131 646h4v1h-4zM1170 646h14v1h-14zM1235 646h1v1h-1zM1238 646h1v1h-1zM15 647h4v1h-4zM23 647h2v1h-2zM33 647h2v1h-2zM48 647h1v1h-1zM90 647h2v1h-2zM208 647h1v1h-1zM378 647h1v1h-1zM387 647h2v1h-2zM538 647h1v1h-1zM637 647h2v1h-2zM666 647h3v1h-3zM673 647h8v1h-8zM789 647h4v1h-4zM972 647h2v1h-2zM1071 647h1v1h-1zM1127 647h4v1h-4zM1184 647h4v1h-4zM1193 647h17v1h-17zM1235 647h1v1h-1zM1239 647h1v1h-1zM1297 647h5v1h-5zM13 648h2v1h-2zM25 648h2v1h-2zM32 648h2v1h-2zM49 648h1v1h-1zM89 648h1v1h-1zM208 648h1v1h-1zM377 648h1v1h-1zM389 648h4v1h-4zM537 648h1v1h-1zM669 648h4v1h-4zM793 648h5v1h-5zM969 648h3v1h-3zM1072 648h1v1h-1zM1125 648h2v1h-2zM1188 648h5v1h-5zM1210 648h4v1h-4zM1234 648h1v1h-1zM1240 648h1v1h-1zM1290 648h7v1h-7zM27 649h2v1h-2zM30 649h2v1h-2zM50 649h1v1h-1zM89 649h1v1h-1zM209 649h1v1h-1zM377 649h1v1h-1zM393 649h3v1h-3zM537 649h1v1h-1zM798 649h1v1h-1zM966 649h3v1h-3zM1072 649h1v1h-1zM1124 649h1v1h-1zM1214 649h1v1h-1zM1233 649h1v1h-1zM1241 649h1v1h-1zM1287 649h3v1h-3zM29 650h1v1h-1zM51 650h1v1h-1zM87 650h2v1h-2zM210 650h1v1h-1zM376 650h1v1h-1zM396 650h3v1h-3zM537 650h1v1h-1zM799 650h2v1h-2zM957 650h9v1h-9zM1072 650h1v1h-1zM1124 650h1v1h-1zM1214 650h1v1h-1zM1231 650h2v1h-2zM1242 650h1v1h-1zM1284 650h3v1h-3zM52 651h1v1h-1zM86 651h1v1h-1zM210 651h1v1h-1zM375 651h1v1h-1zM399 651h1v1h-1zM536 651h1v1h-1zM801 651h1v1h-1zM956 651h1v1h-1zM1073 651h1v1h-1zM1123 651h1v1h-1zM1215 651h2v1h-2zM1231 651h1v1h-1zM1243 651h1v1h-1zM1283 651h1v1h-1zM53 652h1v1h-1zM85 652h1v1h-1zM211 652h1v1h-1zM374 652h1v1h-1zM400 652h2v1h-2zM536 652h1v1h-1zM801 652h2v1h-2zM956 652h1v1h-1zM1073 652h1v1h-1zM1122 652h1v1h-1zM1217 652h1v1h-1zM1230 652h1v1h-1zM1244 652h1v1h-1zM1281 652h2v1h-2zM54 653h2v1h-2zM83 653h2v1h-2zM212 653h1v1h-1zM374 653h1v1h-1zM401 653h2v1h-2zM535 653h1v1h-1zM803 653h1v1h-1zM955 653h1v1h-1zM1074 653h1v1h-1zM1121 653h1v1h-1zM1217 653h1v1h-1zM1229 653h1v1h-1zM1244 653h1v1h-1zM1249 653h7v1h-7zM1280 653h2v1h-2zM56 654h2v1h-2zM82 654h1v1h-1zM212 654h1v1h-1zM371 654h3v1h-3zM403 654h2v1h-2zM535 654h1v1h-1zM804 654h2v1h-2zM955 654h1v1h-1zM1074 654h1v1h-1zM1120 654h1v1h-1zM1218 654h1v1h-1zM1227 654h2v1h-2zM1245 654h4v1h-4zM1256 654h2v1h-2zM1278 654h2v1h-2zM57 655h2v1h-2zM81 655h1v1h-1zM213 655h17v1h-17zM368 655h3v1h-3zM405 655h5v1h-5zM534 655h1v1h-1zM806 655h2v1h-2zM954 655h1v1h-1zM1074 655h1v1h-1zM1085 655h1v1h-1zM1120 655h1v1h-1zM1219 655h1v1h-1zM1225 655h2v1h-2zM1258 655h2v1h-2zM1273 655h5v1h-5zM59 656h2v1h-2zM80 656h2v1h-2zM230 656h1v1h-1zM357 656h11v1h-11zM409 656h6v1h-6zM534 656h1v1h-1zM808 656h2v1h-2zM953 656h1v1h-1zM1075 656h1v1h-1zM1083 656h2v1h-2zM1086 656h2v1h-2zM1119 656h1v1h-1zM1220 656h1v1h-1zM1224 656h2v1h-2zM1260 656h14v1h-14zM61 657h2v1h-2zM79 657h1v1h-1zM231 657h1v1h-1zM356 657h1v1h-1zM415 657h2v1h-2zM533 657h1v1h-1zM809 657h2v1h-2zM953 657h1v1h-1zM1075 657h1v1h-1zM1082 657h1v1h-1zM1088 657h1v1h-1zM1118 657h1v1h-1zM1220 657h1v1h-1zM1222 657h2v1h-2zM63 658h1v1h-1zM77 658h2v1h-2zM231 658h1v1h-1zM355 658h1v1h-1zM417 658h1v1h-1zM532 658h2v1h-2zM811 658h2v1h-2zM925 658h2v1h-2zM952 658h1v1h-1zM1076 658h1v1h-1zM1081 658h1v1h-1zM1089 658h1v1h-1zM1118 658h1v1h-1zM1221 658h1v1h-1zM64 659h2v1h-2zM75 659h2v1h-2zM232 659h1v1h-1zM355 659h1v1h-1zM418 659h3v1h-3zM529 659h3v1h-3zM813 659h1v1h-1zM923 659h2v1h-2zM927 659h2v1h-2zM951 659h1v1h-1zM1076 659h1v1h-1zM1079 659h2v1h-2zM1090 659h2v1h-2zM1117 659h1v1h-1zM65 660h1v1h-1zM73 660h2v1h-2zM233 660h1v1h-1zM354 660h1v1h-1zM421 660h3v1h-3zM528 660h2v1h-2zM814 660h1v1h-1zM922 660h1v1h-1zM929 660h1v1h-1zM951 660h1v1h-1zM1077 660h2v1h-2zM1092 660h1v1h-1zM1116 660h1v1h-1zM66 661h2v1h-2zM72 661h2v1h-2zM234 661h2v1h-2zM353 661h1v1h-1zM424 661h2v1h-2zM525 661h3v1h-3zM815 661h1v1h-1zM921 661h1v1h-1zM929 661h2v1h-2zM950 661h1v1h-1zM1077 661h1v1h-1zM1093 661h1v1h-1zM1116 661h1v1h-1zM68 662h1v1h-1zM70 662h2v1h-2zM235 662h1v1h-1zM352 662h1v1h-1zM426 662h3v1h-3zM524 662h1v1h-1zM815 662h1v1h-1zM921 662h1v1h-1zM931 662h2v1h-2zM950 662h1v1h-1zM1094 662h2v1h-2zM1115 662h1v1h-1zM69 663h1v1h-1zM236 663h1v1h-1zM323 663h9v1h-9zM351 663h1v1h-1zM429 663h1v1h-1zM522 663h2v1h-2zM816 663h1v1h-1zM919 663h2v1h-2zM933 663h2v1h-2zM948 663h2v1h-2zM1096 663h1v1h-1zM1115 663h1v1h-1zM237 664h1v1h-1zM321 664h2v1h-2zM332 664h4v1h-4zM351 664h1v1h-1zM429 664h1v1h-1zM501 664h10v1h-10zM521 664h1v1h-1zM817 664h1v1h-1zM918 664h1v1h-1zM935 664h2v1h-2zM946 664h2v1h-2zM1097 664h1v1h-1zM1113 664h2v1h-2zM238 665h1v1h-1zM277 665h2v1h-2zM319 665h3v1h-3zM336 665h2v1h-2zM350 665h1v1h-1zM430 665h1v1h-1zM500 665h1v1h-1zM511 665h2v1h-2zM521 665h1v1h-1zM818 665h1v1h-1zM893 665h12v1h-12zM914 665h4v1h-4zM937 665h2v1h-2zM944 665h2v1h-2zM1097 665h2v1h-2zM1113 665h1v1h-1zM238 666h1v1h-1zM275 666h2v1h-2zM279 666h2v1h-2zM315 666h4v1h-4zM337 666h3v1h-3zM345 666h5v1h-5zM430 666h2v1h-2zM499 666h1v1h-1zM513 666h2v1h-2zM519 666h2v1h-2zM819 666h1v1h-1zM892 666h1v1h-1zM905 666h3v1h-3zM911 666h3v1h-3zM939 666h2v1h-2zM942 666h2v1h-2zM1099 666h1v1h-1zM1112 666h1v1h-1zM239 667h1v1h-1zM261 667h1v1h-1zM274 667h1v1h-1zM281 667h2v1h-2zM308 667h7v1h-7zM340 667h6v1h-6zM431 667h1v1h-1zM477 667h1v1h-1zM499 667h1v1h-1zM515 667h2v1h-2zM518 667h1v1h-1zM819 667h1v1h-1zM891 667h1v1h-1zM908 667h3v1h-3zM941 667h1v1h-1zM1100 667h1v1h-1zM1111 667h1v1h-1zM239 668h1v1h-1zM259 668h2v1h-2zM262 668h2v1h-2zM273 668h1v1h-1zM283 668h2v1h-2zM303 668h5v1h-5zM432 668h1v1h-1zM476 668h1v1h-1zM478 668h1v1h-1zM497 668h2v1h-2zM517 668h1v1h-1zM820 668h1v1h-1zM889 668h2v1h-2zM1101 668h3v1h-3zM1111 668h1v1h-1zM240 669h1v1h-1zM258 669h1v1h-1zM264 669h2v1h-2zM272 669h2v1h-2zM285 669h2v1h-2zM300 669h3v1h-3zM432 669h1v1h-1zM474 669h2v1h-2zM479 669h1v1h-1zM496 669h1v1h-1zM821 669h1v1h-1zM889 669h1v1h-1zM1104 669h2v1h-2zM1110 669h1v1h-1zM240 670h1v1h-1zM257 670h1v1h-1zM265 670h2v1h-2zM271 670h1v1h-1zM287 670h3v1h-3zM297 670h3v1h-3zM433 670h1v1h-1zM473 670h1v1h-1zM480 670h1v1h-1zM495 670h1v1h-1zM822 670h1v1h-1zM888 670h1v1h-1zM1105 670h3v1h-3zM1110 670h1v1h-1zM241 671h1v1h-1zM256 671h1v1h-1zM267 671h2v1h-2zM270 671h1v1h-1zM289 671h2v1h-2zM296 671h2v1h-2zM433 671h1v1h-1zM445 671h2v1h-2zM473 671h1v1h-1zM481 671h1v1h-1zM495 671h1v1h-1zM823 671h1v1h-1zM887 671h1v1h-1zM1108 671h2v1h-2zM241 672h1v1h-1zM254 672h2v1h-2zM269 672h1v1h-1zM291 672h2v1h-2zM294 672h2v1h-2zM434 672h1v1h-1zM444 672h1v1h-1zM447 672h3v1h-3zM471 672h2v1h-2zM482 672h1v1h-1zM494 672h1v1h-1zM823 672h1v1h-1zM886 672h1v1h-1zM242 673h1v1h-1zM253 673h1v1h-1zM293 673h1v1h-1zM434 673h1v1h-1zM443 673h1v1h-1zM449 673h3v1h-3zM470 673h1v1h-1zM483 673h1v1h-1zM491 673h3v1h-3zM824 673h1v1h-1zM885 673h1v1h-1zM242 674h1v1h-1zM251 674h2v1h-2zM435 674h1v1h-1zM441 674h2v1h-2zM452 674h4v1h-4zM467 674h3v1h-3zM484 674h1v1h-1zM487 674h4v1h-4zM825 674h1v1h-1zM885 674h1v1h-1zM243 675h1v1h-1zM250 675h1v1h-1zM435 675h1v1h-1zM441 675h1v1h-1zM456 675h4v1h-4zM463 675h4v1h-4zM485 675h2v1h-2zM826 675h2v1h-2zM884 675h1v1h-1zM243 676h1v1h-1zM249 676h1v1h-1zM436 676h1v1h-1zM440 676h1v1h-1zM460 676h3v1h-3zM827 676h1v1h-1zM884 676h1v1h-1zM244 677h1v1h-1zM248 677h2v1h-2zM436 677h1v1h-1zM439 677h1v1h-1zM828 677h1v1h-1zM883 677h1v1h-1zM244 678h1v1h-1zM247 678h1v1h-1zM437 678h2v1h-2zM829 678h1v1h-1zM883 678h1v1h-1zM245 679h2v1h-2zM437 679h1v1h-1zM830 679h2v1h-2zM882 679h1v1h-1zM245 680h1v1h-1zM832 680h2v1h-2zM843 680h4v1h-4zM882 680h1v1h-1zM833 681h2v1h-2zM841 681h2v1h-2zM847 681h2v1h-2zM881 681h1v1h-1zM835 682h2v1h-2zM839 682h3v1h-3zM849 682h1v1h-1zM881 682h1v1h-1zM837 683h2v1h-2zM850 683h2v1h-2zM880 683h1v1h-1zM852 684h11v1h-11zM880 684h1v1h-1zM863 685h3v1h-3zM879 685h1v1h-1zM865 686h3v1h-3zM879 686h1v1h-1zM868 687h4v1h-4zM878 687h1v1h-1zM872 688h4v1h-4zM878 688h1v1h-1zM876 689h2v1h-2z" fill="#1e90ff"/>
<path d="M1300 159h2v1h-2zM1297 160h3v1h-3zM1295 161h2v1h-2zM1293 162h2v1h-2zM1291 163h2v1h-2zM1289 164h2v1h-2zM1286 165h3v1h-3zM1284 166h2v1h-2zM1282 167h2v1h-2zM1279 168h3v1h-3zM1277 169h2v1h-2zM1275 170h2v1h-2zM1273 171h2v1h-2zM1271 172h2v1h-2zM1268 173h3v1h-3zM1266 174h2v1h-2zM1264 175h2v1h-2zM1261 176h3v1h-3zM1258 177h3v1h-3zM1256 178h2v1h-2zM1253 179h3v1h-3zM1250 180h3v1h-3zM1247 181h3v1h-3zM1244 182h3v1h-3zM1241 183h3v1h-3zM1238 184h3v1h-3zM1234 185h4v1h-4zM1229 186h5v1h-5zM1224 187h5v1h-5zM1219 188h5v1h-5zM1215 189h4v1h-4zM1210 190h5v1h-5zM1206 191h4v1h-4zM1202 192h4v1h-4zM1197 193h5v1h-5zM1193 194h4v1h-4zM1189 195h4v1h-4zM1185 196h4v1h-4zM1181 197h4v1h-4zM1177 198h4v1h-4zM1173 199h4v1h-4zM1169 200h4v1h-4zM1165 201h4v1h-4zM1162 202h3v1h-3zM1158 203h4v1h-4zM1155 204h3v1h-3zM1152 205h3v1h-3zM1148 206h4v1h-4zM1145 207h3v1h-3zM1142 208h3v1h-3zM1138 209h4v1h-4zM1135 210h3v1h-3zM1132 211h3v1h-3zM1130 212h3v1h-3zM1127 213h3v1h-3zM1123 214h4v1h-4zM1120 215h3v1h-3zM1116 216h4v1h-4zM1112 217h4v1h-4zM1106 218h6v1h-6zM1100 219h6v1h-6zM1093 220h7v1h-7zM1087 221h6v1h-6zM1083 222h5v1h-5zM1078 223h5v1h-5zM1074 224h4v1h-4zM1069 225h5v1h-5zM1065 226h4v1h-4zM1060 227h5v1h-5zM1056 228h4v1h-4zM1052 229h4v1h-4zM1048 230h4v1h-4zM1045 231h3v1h-3zM1041 232h4v1h-4zM1037 233h4v1h-4zM1034 234h3v1h-3zM1030 235h4v1h-4zM1027 236h3v1h-3zM1025 237h2v1h-2zM1022 238h3v1h-3zM1019 239h3v1h-3zM1017 240h2v1h-2zM1014 241h3v1h-3zM1011 242h3v1h-3zM1009 243h2v1h-2zM1006 244h3v1h-3zM1003 245h3v1h-3zM1000 246h3v1h-3zM996 247h4v1h-4zM992 248h4v1h-4zM989 249h3v1h-3zM985 250h4v1h-4zM981 251h4v1h-4zM977 252h4v1h-4zM974 253h3v1h-3zM971 254h3v1h-3zM968 255h3v1h-3zM965 256h3v1h-3zM963 257h2v1h-2zM960 258h3v1h-3zM957 259h3v1h-3zM954 260h3v1h-3zM952 261h2v1h-2zM949 262h3v1h-3zM946 263h3v1h-3zM944 264h2v1h-2zM942 265h2v1h-2zM940 266h2v1h-2zM937 267h3v1h-3zM935 268h2v1h-2zM933 269h2v1h-2zM931 270h2v1h-2zM928 271h3v1h-3zM926 272h2v1h-2zM924 273h2v1h-2zM922 274h2v1h-2zM919 275h3v1h-3zM917 276h2v1h-2zM914 277h3v1h-3zM912 278h2v1h-2zM909 279h3v1h-3zM907 280h2v1h-2zM904 281h3v1h-3zM901 282h3v1h-3zM898 283h3v1h-3zM896 284h2v1h-2zM893 285h3v1h-3zM891 286h2v1h-2zM889 287h2v1h-2zM887 288h2v1h-2zM885 289h2v1h-2zM883 290h2v1h-2zM881 291h2v1h-2zM878 292h3v1h-3zM874 293h4v1h-4zM870 294h4v1h-4zM867 295h3v1h-3zM861 296h6v1h-6zM854 297h7v1h-7zM848 298h6v1h-6zM842 299h6v1h-6zM836 300h6v1h-6zM830 301h6v1h-6zM825 302h5v1h-5zM821 303h4v1h-4zM817 304h4v1h-4zM813 305h4v1h-4zM809 306h4v1h-4zM807 307h2v1h-2zM804 308h3v1h-3zM802 309h2v1h-2zM799 310h3v1h-3zM797 311h2v1h-2zM794 312h3v1h-3zM792 313h2v1h-2zM789 314h3v1h-3zM787 315h2v1h-2zM784 316h3v1h-3zM782 317h2v1h-2zM780 318h2v1h-2zM778 319h2v1h-2zM776 320h2v1h-2zM774 321h2v1h-2zM772 322h2v1h-2zM770 323h2v1h-2zM769 324h1v1h-1zM767 325h2v1h-2zM765 326h2v1h-2zM763 327h2v1h-2zM761 328h2v1h-2zM759 329h2v1h-2zM757 330h2v1h-2zM755 331h2v1h-2zM753 332h2v1h-2zM751 333h2v1h-2zM749 334h2v1h-2zM748 335h1v1h-1zM746 336h2v1h-2zM744 337h2v1h-2zM742 338h2v1h-2zM741 339h1v1h-1zM739 340h2v1h-2zM737 341h2v1h-2zM735 342h2v1h-2zM733 343h2v1h-2zM732 344h1v1h-1zM730 345h2v1h-2zM728 346h2v1h-2zM726 347h2v1h-2zM724 348h2v1h-2zM722 349h2v1h-2zM719 350h3v1h-3zM717 351h2v1h-2zM715 352h2v1h-2zM713 353h2v1h-2zM711 354h2v1h-2zM708 355h3v1h-3zM706 356h2v1h-2zM704 357h2v1h-2zM702 358h2v1h-2zM700 359h2v1h-2zM698 360h2v1h-2zM696 361h2v1h-2zM694 362h2v1h-2zM693 363h1v1h-1zM692 364h1v1h-1zM689 365h3v1h-3zM686 366h3v1h-3zM684 367h2v1h-2zM681 368h3v1h-3zM679 369h2v1h-2zM676 370h3v1h-3zM673 371h3v1h-3zM670 372h3v1h-3zM666 373h4v1h-4zM662 374h4v1h-4zM659 375h3v1h-3zM655 376h4v1h-4zM652 377h3v1h-3zM648 378h4v1h-4zM645 379h3v1h-3zM640 380h5v1h-5zM635 381h5v1h-5zM630 382h5v1h-5zM625 383h5v1h-5zM620 384h5v1h-5zM614 385h6v1h-6zM608 386h6v1h-6zM603 387h5v1h-5zM597 388h6v1h-6zM592 389h5v1h-5zM586 390h6v1h-6zM581 391h5v1h-5zM576 392h5v1h-5zM570 393h6v1h-6zM565 394h5v1h-5zM560 395h5v1h-5zM556 396h4v1h-4zM552 397h4v1h-4zM549 398h3v1h-3zM545 399h4v1h-4zM541 400h4v1h-4zM537 401h4v1h-4zM531 402h6v1h-6zM525 403h6v1h-6zM518 404h7v1h-7zM511 405h7v1h-7zM505 406h6v1h-6zM498 407h7v1h-7zM492 408h6v1h-6zM486 409h6v1h-6zM479 410h7v1h-7zM476 411h3v1h-3zM472 412h4v1h-4zM459 413h14v1h-14zM451 414h8v1h-8zM442 415h9v1h-9zM436 416h6v1h-6zM430 417h6v1h-6zM425 418h5v1h-5zM422 419h3v1h-3zM419 420h3v1h-3zM415 421h4v1h-4zM412 422h3v1h-3zM409 423h3v1h-3zM406 424h3v1h-3zM403 425h3v1h-3zM400 426h3v1h-3zM398 427h2v1h-2zM395 428h3v1h-3zM392 429h3v1h-3zM390 430h3v1h-3zM387 431h3v1h-3zM385 432h2v1h-2zM383 433h2v1h-2zM381 434h2v1h-2zM378 435h3v1h-3zM376 436h2v1h-2zM374 437h2v1h-2zM372 438h2v1h-2zM369 439h3v1h-3zM367 440h2v1h-2zM365 441h2v1h-2zM363 442h2v1h-2zM361 443h2v1h-2zM359 444h2v1h-2zM357 445h2v1h-2zM356 446h2v1h-2zM354 447h2v1h-2zM352 448h2v1h-2zM348 449h4v1h-4zM343 450h5v1h-5zM338 451h5v1h-5zM334 452h4v1h-4zM330 453h4v1h-4zM327 454h3v1h-3zM323 455h4v1h-4zM320 456h3v1h-3zM318 457h2v1h-2zM314 458h4v1h-4zM309 459h5v1h-5zM304 460h5v1h-5zM300 461h4v1h-4zM295 462h5v1h-5zM292 463h3v1h-3zM287 464h5v1h-5zM282 465h5v1h-5zM277 466h5v1h-5zM273 467h4v1h-4zM270 468h3v1h-3zM267 469h3v1h-3zM264 470h3v1h-3zM262 471h2v1h-2zM259 472h3v1h-3zM257 473h3v1h-3zM254 474h3v1h-3zM252 475h2v1h-2zM250 476h3v1h-3zM247 477h3v1h-3zM243 478h4v1h-4zM239 479h4v1h-4zM234 480h5v1h-5zM230 481h4v1h-4zM228 482h2v1h-2zM226 483h2v1h-2zM225 484h2v1h-2zM223 485h2v1h-2zM221 486h2v1h-2zM219 487h2v1h-2zM216 488h3v1h-3zM214 489h2v1h-2zM212 490h2v1h-2zM209 491h3v1h-3zM207 492h2v1h-2zM205 493h2v1h-2zM203 494h2v1h-2zM200 495h3v1h-3zM198 496h2v1h-2zM196 497h2v1h-2zM193 498h3v1h-3zM191 499h2v1h-2zM188 500h3v1h-3zM186 501h2v1h-2zM184 502h2v1h-2zM182 503h2v1h-2zM180 504h2v1h-2zM178 505h2v1h-2zM176 506h2v1h-2zM174 507h2v1h-2zM172 508h2v1h-2zM170 509h2v1h-2zM169 510h1v1h-1zM167 511h2v1h-2zM165 512h2v1h-2zM163 513h2v1h-2zM162 514h1v1h-1zM161 515h1v1h-1zM159 516h2v1h-2zM157 517h2v1h-2zM155 518h2v1h-2zM154 519h1v1h-1zM152 520h2v1h-2zM150 521h2v1h-2zM148 522h2v1h-2zM146 523h2v1h-2zM144 524h2v1h-2zM142 525h2v1h-2zM140 526h2v1h-2zM138 527h2v1h-2zM137 528h1v1h-1zM135 529h2v1h-2zM133 530h2v1h-2zM131 531h2v1h-2zM129 532h2v1h-2zM128 533h2v1h-2zM127 534h1v1h-1z" fill="#ff00ff"/>
<path d="M1299 339h3v1h-3zM1297 340h2v1h-2zM1294 341h3v1h-3zM1292 342h2v1h-2zM1289 343h3v1h-3zM1287 344h2v1h-2zM1284 345h3v1h-3zM1282 346h2v1h-2zM1279 347h3v1h-3zM1277 348h2v1h-2zM1274 349h3v1h-3zM1272 350h2v1h-2zM1268 351h4v1h-4zM1265 352h3v1h-3zM1262 353h3v1h-3zM1259 354h3v1h-3zM1256 355h3v1h-3zM1253 356h3v1h-3zM1249 357h4v1h-4zM1246 358h3v1h-3zM1243 359h3v1h-3zM1240 360h3v1h-3zM1238 361h2v1h-2zM1235 362h3v1h-3zM1233 363h2v1h-2zM1230 364h3v1h-3zM1227 365h3v1h-3zM1225 366h2v1h-2zM1223 367h2v1h-2zM1221 368h2v1h-2zM1218 369h3v1h-3zM1216 370h2v1h-2zM1213 371h3v1h-3zM1211 372h2v1h-2zM1209 373h2v1h-2zM1207 374h2v1h-2zM1205 375h2v1h-2zM1203 376h2v1h-2zM1201 377h2v1h-2zM1199 378h2v1h-2zM1197 379h2v1h-2zM1194 380h3v1h-3zM1192 381h2v1h-2zM1190 382h2v1h-2zM1188 383h2v1h-2zM1186 384h2v1h-2zM1184 385h2v1h-2zM1182 386h2v1h-2zM1180 387h2v1h-2zM1178 388h2v1h-2zM1176 389h2v1h-2zM1173 390h3v1h-3zM1171 391h2v1h-2zM1169 392h2v1h-2zM1167 393h2v1h-2zM1165 394h2v1h-2zM1163 395h2v1h-2zM1161 396h2v1h-2zM1159 397h2v1h-2zM1156 398h3v1h-3zM1154 399h2v1h-2zM1152 400h2v1h-2zM1150 401h2v1h-2zM1147 402h3v1h-3zM1145 403h2v1h-2zM1142 404h3v1h-3zM1140 405h2v1h-2zM1137 406h3v1h-3zM1135 407h2v1h-2zM1133 408h2v1h-2zM1130 409h3v1h-3zM1128 410h2v1h-2zM1125 411h3v1h-3zM1123 412h2v1h-2zM1120 413h3v1h-3zM1118 414h2v1h-2zM1115 415h3v1h-3zM1112 416h3v1h-3zM1110 417h2v1h-2zM1108 418h2v1h-2zM1105 419h3v1h-3zM1102 420h3v1h-3zM1099 421h3v1h-3zM1096 422h3v1h-3zM1094 423h2v1h-2zM1091 424h3v1h-3zM1087 425h4v1h-4zM1084 426h3v1h-3zM1081 427h3v1h-3zM1077 428h4v1h-4zM1074 429h3v1h-3zM1071 430h3v1h-3zM1068 431h3v1h-3zM1066 432h3v1h-3zM1063 433h3v1h-3zM1060 434h3v1h-3zM1058 435h2v1h-2zM1055 436h3v1h-3zM1052 437h3v1h-3zM1049 438h3v1h-3zM1047 439h2v1h-2zM1044 440h3v1h-3zM1042 441h2v1h-2zM1039 442h3v1h-3zM1037 443h2v1h-2zM1034 444h3v1h-3zM1032 445h2v1h-2zM1030 446h2v1h-2zM1028 447h3v1h-3zM1026 448h2v1h-2zM1023 449h3v1h-3zM1021 450h2v1h-2zM1018 451h3v1h-3zM1016 452h2v1h-2zM1013 453h3v1h-3zM1011 454h2v1h-2zM1008 455h3v1h-3zM1005 456h3v1h-3zM1002 457h3v1h-3zM1000 458h2v1h-2zM997 459h3v1h-3zM994 460h3v1h-3zM991 461h3v1h-3zM989 462h2v1h-2zM986 463h3v1h-3zM984 464h2v1h-2zM982 465h2v1h-2zM980 466h2v1h-2zM979 467h1v1h-1zM976 468h3v1h-3zM974 469h2v1h-2zM972 470h2v1h-2zM970 471h2v1h-2zM967 472h3v1h-3zM965 473h2v1h-2zM963 474h2v1h-2zM960 475h3v1h-3zM957 476h3v1h-3zM955 477h2v1h-2zM952 478h3v1h-3zM949 479h3v1h-3zM946 480h3v1h-3zM943 481h3v1h-3zM940 482h3v1h-3zM937 483h3v1h-3zM934 484h3v1h-3zM933 485h2v1h-2zM931 486h2v1h-2zM929 487h2v1h-2zM927 488h2v1h-2zM925 489h2v1h-2zM923 490h2v1h-2zM921 491h2v1h-2zM919 492h2v1h-2zM917 493h2v1h-2zM915 494h2v1h-2zM913 495h2v1h-2zM911 496h2v1h-2zM909 497h2v1h-2zM907 498h2v1h-2zM905 499h2v1h-2zM903 500h2v1h-2zM901 501h2v1h-2zM899 502h2v1h-2zM898 503h1v1h-1zM896 504h2v1h-2zM894 505h2v1h-2zM892 506h2v1h-2zM890 507h2v1h-2zM889 508h1v1h-1zM887 509h2v1h-2zM885 510h2v1h-2zM883 511h2v1h-2zM882 512h1v1h-1zM881 513h2v1h-2zM879 514h2v1h-2zM877 515h2v1h-2zM875 516h2v1h-2zM872 517h3v1h-3zM869 518h3v1h-3zM867 519h2v1h-2zM864 520h3v1h-3zM861 521h3v1h-3zM858 522h3v1h-3zM855 523h3v1h-3zM853 524h2v1h-2zM850 525h3v1h-3zM847 526h3v1h-3zM844 527h3v1h-3zM842 528h2v1h-2zM839 529h3v1h-3zM837 530h3v1h-3zM835 531h2v1h-2zM832 532h3v1h-3zM829 533h3v1h-3zM827 534h2v1h-2z" fill="#dc143c"/>
<path d="M1301 92h1v1h-1zM1297 93h4v1h-4zM1294 94h3v1h-3zM1291 95h3v1h-3zM1287 96h4v1h-4zM1284 97h3v1h-3zM1282 98h2v1h-2zM1281 99h1v1h-1zM1278 100h3v1h-3zM1276 101h2v1h-2zM1274 102h2v1h-2zM1272 103h2v1h-2zM1270 104h2v1h-2zM1268 105h2v1h-2zM1267 106h1v1h-1zM1265 107h2v1h-2zM1263 108h2v1h-2zM1261 109h2v1h-2zM1259 110h2v1h-2zM1257 111h2v1h-2zM1255 112h2v1h-2zM1253 113h2v1h-2zM1250 114h3v1h-3zM1248 115h2v1h-2zM1247 116h2v1h-2zM1245 117h2v1h-2zM1243 118h2v1h-2zM1241 119h2v1h-2zM1239 120h2v1h-2zM1237 121h2v1h-2zM1235 122h2v1h-2zM1233 123h2v1h-2zM1230 124h3v1h-3zM1226 125h4v1h-4zM1223 126h3v1h-3zM1218 127h5v1h-5zM1213 128h5v1h-5zM1209 129h4v1h-4zM1206 130h4v1h-4zM1203 131h3v1h-3zM1200 132h3v1h-3zM1196 133h4v1h-4zM1193 134h3v1h-3zM1189 135h4v1h-4zM1185 136h4v1h-4zM1181 137h4v1h-4zM1178 138h3v1h-3zM1175 139h3v1h-3zM1172 140h3v1h-3zM1169 141h3v1h-3zM1166 142h3v1h-3zM1163 143h3v1h-3zM1161 144h2v1h-2zM1158 145h3v1h-3zM1155 146h3v1h-3zM1153 147h2v1h-2zM1151 148h2v1h-2zM1149 149h2v1h-2zM1147 150h2v1h-2zM1145 151h2v1h-2zM1143 152h2v1h-2zM1141 153h2v1h-2zM1140 154h1v1h-1zM1138 155h2v1h-2zM1137 156h1v1h-1zM1136 157h1v1h-1zM1134 158h2v1h-2zM1133 159h1v1h-1zM1132 160h1v1h-1zM1131 161h2v1h-2zM1129 162h2v1h-2zM1128 163h1v1h-1zM1126 164h2v1h-2zM1124 165h2v1h-2zM1122 166h2v1h-2zM1121 167h1v1h-1zM1119 168h2v1h-2zM1117 169h2v1h-2zM1115 170h2v1h-2zM1114 171h1v1h-1zM1111 172h3v1h-3zM1109 173h2v1h-2zM1106 174h3v1h-3zM1104 175h2v1h-2zM1101 176h3v1h-3zM1099 177h2v1h-2zM1096 178h3v1h-3zM1093 179h3v1h-3zM1091 180h2v1h-2zM1088 181h3v1h-3zM1087 182h1v1h-1zM1085 183h2v1h-2zM1083 184h2v1h-2zM1081 185h2v1h-2zM1079 186h2v1h-2zM1077 187h2v1h-2zM1075 188h2v1h-2zM1073 189h2v1h-2zM1071 190h2v1h-2zM1070 191h1v1h-1zM1068 192h2v1h-2zM1067 193h1v1h-1zM1065 194h2v1h-2zM1064 195h1v1h-1zM1063 196h1v1h-1zM1061 197h2v1h-2zM1060 198h1v1h-1zM1058 199h2v1h-2zM1057 200h1v1h-1zM1056 201h1v1h-1zM1055 202h1v1h-1zM1054 203h1v1h-1zM1053 204h1v1h-1zM1052 205h1v1h-1zM1050 206h2v1h-2zM1049 207h1v1h-1zM1048 208h1v1h-1zM1047 209h1v1h-1zM1046 210h1v1h-1zM1045 211h1v1h-1zM1044 212h1v1h-1zM1043 213h1v1h-1zM1041 214h2v1h-2zM1040 215h1v1h-1zM1039 216h1v1h-1zM1038 217h1v1h-1zM1037 218h1v1h-1zM1036 219h1v1h-1zM1035 220h1v1h-1zM1034 221h1v1h-1zM1032 222h2v1h-2zM1031 223h1v1h-1zM1030 224h1v1h-1zM830 225h3v1h-3zM1029 225h1v1h-1zM818 226h12v1h-12zM833 226h5v1h-5zM1028 226h1v1h-1zM814 227h4v1h-4zM838 227h6v1h-6zM1027 227h1v1h-1zM809 228h5v1h-5zM844 228h5v1h-5zM1026 228h1v1h-1zM806 229h3v1h-3zM849 229h5v1h-5zM1025 229h1v1h-1zM802 230h4v1h-4zM854 230h3v1h-3zM1023 230h2v1h-2zM798 231h4v1h-4zM857 231h2v1h-2zM1022 231h1v1h-1zM794 232h4v1h-4zM859 232h3v1h-3zM1021 232h1v1h-1zM790 233h4v1h-4zM862 233h3v1h-3zM1020 233h1v1h-1zM786 234h4v1h-4zM865 234h3v1h-3zM1019 234h1v1h-1zM782 235h4v1h-4zM867 235h2v1h-2zM1018 235h1v1h-1zM779 236h3v1h-3zM869 236h2v1h-2zM1017 236h1v1h-1zM777 237h2v1h-2zM871 237h3v1h-3zM1015 237h2v1h-2zM774 238h3v1h-3zM874 238h2v1h-2zM1014 238h1v1h-1zM771 239h3v1h-3zM876 239h3v1h-3zM1013 239h1v1h-1zM769 240h2v1h-2zM879 240h3v1h-3zM1012 240h1v1h-1zM767 241h2v1h-2zM882 241h3v1h-3zM1010 241h2v1h-2zM764 242h3v1h-3zM885 242h3v1h-3zM1009 242h1v1h-1zM761 243h3v1h-3zM888 243h3v1h-3zM1008 243h1v1h-1zM759 244h2v1h-2zM891 244h3v1h-3zM1007 244h1v1h-1zM756 245h3v1h-3zM894 245h3v1h-3zM1005 245h2v1h-2zM754 246h2v1h-2zM897 246h2v1h-2zM1004 246h1v1h-1zM752 247h2v1h-2zM899 247h3v1h-3zM1003 247h1v1h-1zM750 248h2v1h-2zM902 248h3v1h-3zM1001 248h2v1h-2zM748 249h2v1h-2zM905 249h2v1h-2zM1000 249h1v1h-1zM746 250h2v1h-2zM907 250h3v1h-3zM999 250h1v1h-1zM744 251h2v1h-2zM910 251h3v1h-3zM997 251h2v1h-2zM742 252h2v1h-2zM912 252h2v1h-2zM996 252h1v1h-1zM741 253h1v1h-1zM914 253h2v1h-2zM994 253h2v1h-2zM739 254h2v1h-2zM916 254h3v1h-3zM993 254h1v1h-1zM738 255h1v1h-1zM919 255h4v1h-4zM991 255h2v1h-2zM736 256h2v1h-2zM923 256h3v1h-3zM990 256h1v1h-1zM735 257h1v1h-1zM926 257h4v1h-4zM989 257h1v1h-1zM733 258h2v1h-2zM930 258h4v1h-4zM987 258h2v1h-2zM732 259h1v1h-1zM934 259h3v1h-3zM985 259h2v1h-2zM730 260h2v1h-2zM937 260h4v1h-4zM983 260h2v1h-2zM729 261h1v1h-1zM941 261h3v1h-3zM981 261h2v1h-2zM727 262h2v1h-2zM944 262h4v1h-4zM978 262h3v1h-3zM725 263h2v1h-2zM948 263h8v1h-8zM976 263h2v1h-2zM724 264h1v1h-1zM956 264h20v1h-20zM722 265h2v1h-2zM720 266h2v1h-2zM719 267h1v1h-1zM717 268h2v1h-2zM715 269h2v1h-2zM714 270h1v1h-1zM711 271h3v1h-3zM709 272h2v1h-2zM707 273h2v1h-2zM704 274h3v1h-3zM702 275h2v1h-2zM699 276h3v1h-3zM698 277h1v1h-1zM697 278h1v1h-1zM696 279h1v1h-1zM695 280h1v1h-1zM694 281h1v1h-1zM693 282h1v1h-1zM692 283h1v1h-1zM692 284h1v1h-1zM691 285h1v1h-1zM690 286h1v1h-1zM689 287h1v1h-1zM687 288h2v1h-2zM686 289h1v1h-1zM685 290h1v1h-1zM684 291h1v1h-1zM683 292h1v1h-1zM682 293h1v1h-1zM680 294h2v1h-2zM679 295h1v1h-1zM678 296h1v1h-1zM677 297h1v1h-1zM676 298h1v1h-1zM675 299h1v1h-1zM673 300h2v1h-2zM672 301h1v1h-1zM671 302h1v1h-1zM670 303h1v1h-1zM669 304h1v1h-1zM668 305h1v1h-1zM666 306h2v1h-2zM665 307h1v1h-1zM664 308h1v1h-1zM663 309h1v1h-1zM662 310h1v1h-1zM661 311h1v1h-1zM660 312h1v1h-1zM659 313h1v1h-1zM658 314h1v1h-1zM657 315h1v1h-1zM656 316h1v1h-1zM655 317h1v1h-1zM654 318h1v1h-1zM653 319h1v1h-1zM652 320h1v1h-1zM651 321h1v1h-1zM650 322h1v1h-1zM649 323h1v1h-1zM648 324h1v1h-1zM647 325h1v1h-1zM646 326h1v1h-1zM645 327h2v1h-2zM644 328h1v1h-1zM643 329h1v1h-1zM642 330h1v1h-1zM641 331h1v1h-1zM640 332h1v1h-1zM639 333h1v1h-1zM638 334h1v1h-1zM637 335h1v1h-1zM636 336h1v1h-1zM635 337h1v1h-1zM634 338h1v1h-1zM633 339h1v1h-1zM632 340h1v1h-1zM631 341h1v1h-1zM629 342h2v1h-2zM628 343h1v1h-1zM627 344h1v1h-1zM626 345h1v1h-1zM625 346h1v1h-1zM624 347h1v1h-1zM623 348h1v1h-1zM622 349h1v1h-1zM621 350h1v1h-1zM620 351h1v1h-1zM619 352h1v1h-1zM618 353h1v1h-1zM617 354h1v1h-1zM616 355h1v1h-1zM614 356h2v1h-2zM613 357h1v1h-1zM612 358h1v1h-1zM611 359h1v1h-1zM610 360h1v1h-1zM609 361h1v1h-1zM608 362h1v1h-1zM607 363h1v1h-1zM606 364h1v1h-1zM604 365h2v1h-2zM603 366h1v1h-1zM602 367h1v1h-1zM601 368h1v1h-1zM600 369h1v1h-1zM599 370h1v1h-1zM599 371h1v1h-1zM598 372h1v1h-1zM597 373h1v1h-1zM595 374h2v1h-2zM594 375h1v1h-1zM593 376h1v1h-1zM591 377h2v1h-2zM590 378h1v1h-1zM589 379h1v1h-1zM588 380h1v1h-1zM585 381h3v1h-3zM583 382h2v1h-2zM581 383h2v1h-2zM579 384h2v1h-2zM578 385h2v1h-2zM576 386h2v1h-2zM574 387h2v1h-2zM572 388h2v1h-2zM569 389h3v1h-3zM252 390h32v1h-32zM566 390h3v1h-3zM247 391h5v1h-5zM284 391h3v1h-3zM563 391h3v1h-3zM243 392h4v1h-4zM287 392h3v1h-3zM560 392h3v1h-3zM241 393h2v1h-2zM290 393h4v1h-4zM557 393h3v1h-3zM238 394h3v1h-3zM294 394h3v1h-3zM555 394h2v1h-2zM235 395h3v1h-3zM297 395h3v1h-3zM552 395h3v1h-3zM233 396h2v1h-2zM300 396h3v1h-3zM549 396h3v1h-3zM231 397h2v1h-2zM303 397h2v1h-2zM547 397h3v1h-3zM230 398h1v1h-1zM305 398h2v1h-2zM545 398h2v1h-2zM228 399h2v1h-2zM307 399h3v1h-3zM542 399h3v1h-3zM227 400h1v1h-1zM309 400h2v1h-2zM539 400h3v1h-3zM225 401h2v1h-2zM311 401h2v1h-2zM537 401h2v1h-2zM223 402h2v1h-2zM313 402h3v1h-3zM528 402h9v1h-9zM222 403h1v1h-1zM316 403h2v1h-2zM514 403h14v1h-14zM220 404h2v1h-2zM318 404h3v1h-3zM430 404h8v1h-8zM460 404h25v1h-25zM500 404h14v1h-14zM218 405h2v1h-2zM321 405h2v1h-2zM422 405h8v1h-8zM438 405h22v1h-22zM485 405h15v1h-15zM217 406h2v1h-2zM323 406h3v1h-3zM419 406h3v1h-3zM216 407h1v1h-1zM326 407h3v1h-3zM416 407h3v1h-3zM214 408h2v1h-2zM329 408h3v1h-3zM414 408h2v1h-2zM212 409h2v1h-2zM332 409h3v1h-3zM411 409h3v1h-3zM210 410h2v1h-2zM335 410h3v1h-3zM409 410h2v1h-2zM208 411h2v1h-2zM338 411h3v1h-3zM406 411h3v1h-3zM206 412h2v1h-2zM341 412h3v1h-3zM404 412h2v1h-2zM205 413h2v1h-2zM344 413h4v1h-4zM400 413h4v1h-4zM202 414h3v1h-3zM348 414h3v1h-3zM396 414h4v1h-4zM200 415h2v1h-2zM351 415h4v1h-4zM393 415h4v1h-4zM199 416h1v1h-1zM355 416h3v1h-3zM389 416h4v1h-4zM197 417h2v1h-2zM358 417h4v1h-4zM383 417h6v1h-6zM196 418h1v1h-1zM362 418h7v1h-7zM377 418h6v1h-6zM194 419h2v1h-2zM369 419h8v1h-8zM193 420h1v1h-1zM191 421h2v1h-2zM190 422h1v1h-1zM188 423h2v1h-2zM187 424h1v1h-1zM185 425h2v1h-2zM184 426h1v1h-1zM182 427h2v1h-2zM181 428h1v1h-1zM179 429h2v1h-2zM178 430h1v1h-1zM177 431h1v1h-1zM176 432h1v1h-1zM175 433h1v1h-1zM174 434h1v1h-1zM172 435h2v1h-2zM171 436h1v1h-1zM170 437h1v1h-1zM168 438h2v1h-2zM167 439h1v1h-1zM166 440h1v1h-1zM165 441h1v1h-1zM164 442h1v1h-1zM163 443h1v1h-1zM162 444h1v1h-1zM161 445h1v1h-1zM160 446h1v1h-1zM159 447h1v1h-1zM158 448h1v1h-1zM157 449h1v1h-1zM156 450h1v1h-1zM155 451h1v1h-1zM154 452h1v1h-1zM153 453h1v1h-1zM152 454h1v1h-1zM151 455h1v1h-1zM150 456h1v1h-1zM149 457h1v1h-1zM148 458h1v1h-1zM148 459h1v1h-1zM147 460h1v1h-1zM146 461h1v1h-1zM145 462h1v1h-1zM144 463h2v1h-2zM143 464h1v1h-1zM142 465h1v1h-1zM141 466h1v1h-1zM140 467h1v1h-1zM139 468h1v1h-1zM138 469h1v1h-1zM137 470h1v1h-1zM135 471h2v1h-2zM134 472h1v1h-1zM133 473h1v1h-1zM132 474h1v1h-1zM131 475h1v1h-1zM130 476h1v1h-1zM129 477h1v1h-1zM128 478h1v1h-1zM127 479h1v1h-1zM126 480h1v1h-1zM125 481h1v1h-1zM123 482h2v1h-2zM122 483h1v1h-1zM121 484h1v1h-1zM120 485h1v1h-1zM119 486h1v1h-1zM118 487h1v1h-1zM117 488h1v1h-1zM115 489h2v1h-2zM114 490h1v1h-1zM112 491h2v1h-2zM111 492h1v1h-1zM109 493h2v1h-2zM108 494h1v1h-1zM106 495h2v1h-2zM105 496h1v1h-1zM103 497h2v1h-2zM102 498h1v1h-1zM101 499h1v1h-1zM99 500h2v1h-2zM98 501h1v1h-1zM97 502h1v1h-1zM96 503h1v1h-1zM94 504h2v1h-2zM93 505h1v1h-1zM92 506h1v1h-1zM90 507h2v1h-2zM89 508h1v1h-1zM88 509h1v1h-1zM86 510h2v1h-2zM84 511h2v1h-2zM84 512h1v1h-1zM82 513h2v1h-2zM81 514h1v1h-1zM79 515h2v1h-2zM77 516h2v1h-2zM75 517h2v1h-2zM73 518h2v1h-2zM71 519h2v1h-2zM69 520h2v1h-2zM62 521h7v1h-7zM55 522h7v1h-7zM52 523h3v1h-3zM49 524h3v1h-3zM46 525h3v1h-3zM44 526h2v1h-2zM41 527h3v1h-3zM38 528h3v1h-3zM35 529h3v1h-3zM32 530h3v1h-3zM29 531h3v1h-3zM26 532h3v1h-3zM22 533h4v1h-4zM18 534h4v1h-4z" fill="#dc143c"/>
<rect x="13" y="485" width="1" height="24" fill="#32cd32"/>
<rect x="13" y="488" width="3" height="4" fill="#32cd32"/>
<rect x="21" y="475" width="1" height="16" fill="#ff4500"/>
<rect x="19" y="480" width="5" height="11" fill="#ff4500"/>
<rect x="29" y="477" width="1" height="20" fill="#32cd32"/>
<rect x="27" y="481" width="5" height="10" fill="#32cd32"/>
<rect x="37" y="458" width="1" height="40" fill="#ff4500"/>
<rect x="35" y="470" width="5" height="20" fill="#ff4500"/>
<rect x="45" y="452" width="1" height="32" fill="#ff4500"/>
<rect x="43" y="463" width="5" height="8" fill="#ff4500"/>
<rect x="53" y="455" width="1" height="33" fill="#32cd32"/>
<rect x="51" y="464" width="5" height="24" fill="#32cd32"/>
<rect x="61" y="481" width="1" height="26" fill="#32cd32"/>
<rect x="59" y="486" width="5" height="11" fill="#32cd32"/>
<rect x="69" y="495" width="1" height="24" fill="#32cd32"/>
<rect x="67" y="496" width="5" height="20" fill="#32cd32"/>
<rect x="77" y="497" width="1" height="27" fill="#ff4500"/>
<rect x="75" y="502" width="5" height="13" fill="#ff4500"/>
<rect x="85" y="470" width="1" height="43" fill="#ff4500"/>
<rect x="83" y="474" width="5" height="29" fill="#ff4500"/>
<rect x="93" y="407" width="1" height="68" fill="#ff4500"/>
<rect x="91" y="438" width="5" height="37" fill="#ff4500"/>
<rect x="101" y="420" width="1" height="35" fill="#ff4500"/>
<rect x="99" y="435" width="5" height="4" fill="#ff4500"/>
<rect x="109" y="409" width="1" height="28" fill="#ff4500"/>
<rect x="107" y="414" width="5" height="23" fill="#ff4500"/>
<rect x="117" y="413" width="1" height="10" fill="#32cd32"/>
<rect x="115" y="415" width="5" height="5" fill="#32cd32"/>
<rect x="125" y="400" width="1" height="23" fill="#ff4500"/>
<rect x="123" y="401" width="5" height="20" fill="#ff4500"/>
<rect x="133" y="364" width="1" height="44" fill="#ff4500"/>
<rect x="131" y="367" width="5" height="35" fill="#ff4500"/>
<rect x="141" y="335" width="1" height="34" fill="#ff4500"/>
<rect x="139" y="356" width="5" height="11" fill="#ff4500"/>
<rect x="149" y="343" width="1" height="22" fill="#ff4500"/>
<rect x="147" y="345" width="5" height="12" fill="#ff4500"/>
<rect x="157" y="342" width="1" height="14" fill="#32cd32"/>
<rect x="155" y="346" width="5" height="7" fill="#32cd32"/>
<rect x="165" y="350" width="1" height="20" fill="#32cd32"/>
<rect x="163" y="354" width="5" height="10" fill="#32cd32"/>
<rect x="173" y="356" width="1" height="11" fill="#ff4500"/>
<rect x="171" y="361" width="5" height="4" fill="#ff4500"/>
<rect x="181" y="359" width="1" height="20" fill="#32cd32"/>
<rect x="179" y="362" width="5" height="7" fill="#32cd32"/>
<rect x="189" y="362" width="1" height="21" fill="#32cd32"/>
<rect x="187" y="368" width="5" height="7" fill="#32cd32"/>
<rect x="197" y="365" width="1" height="9" fill="#ff4500"/>
<rect x="195" y="366" width="5" height="8" fill="#ff4500"/>
<rect x="205" y="363" width="1" height="12" fill="#ff4500"/>
<rect x="203" y="365" width="5" height="8" fill="#ff4500"/>
<rect x="213" y="358" width="1" height="34" fill="#32cd32"/>
<rect x="211" y="364" width="5" height="27" fill="#32cd32"/>
<rect x="221" y="386" width="1" height="12" fill="#32cd32"/>
<rect x="219" y="390" width="5" height="1" fill="#32cd32"/>
<rect x="229" y="377" width="1" height="22" fill="#32cd32"/>
<rect x="227" y="390" width="5" height="1" fill="#32cd32"/>
<rect x="237" y="380" width="1" height="36" fill="#32cd32"/>
<rect x="235" y="390" width="5" height="21" fill="#32cd32"/>
<rect x="245" y="401" width="1" height="71" fill="#32cd32"/>
<rect x="243" y="410" width="5" height="51" fill="#32cd32"/>
<rect x="253" y="423" width="1" height="52" fill="#ff4500"/>
<rect x="251" y="441" width="5" height="21" fill="#ff4500"/>
<rect x="261" y="415" width="1" height="29" fill="#ff4500"/>
<rect x="259" y="424" width="5" height="18" fill="#ff4500"/>
<rect x="269" y="425" width="1" height="16" fill="#32cd32"/>
<rect x="267" y="425" width="5" height="15" fill="#32cd32"/>
<rect x="277" y="415" width="1" height="35" fill="#ff4500"/>
<rect x="275" y="417" width="5" height="23" fill="#ff4500"/>
<rect x="285" y="388" width="1" height="50" fill="#32cd32"/>
<rect x="283" y="418" width="5" height="15" fill="#32cd32"/>
<rect x="293" y="423" width="1" height="62" fill="#32cd32"/>
<rect x="291" y="432" width="5" height="15" fill="#32cd32"/>
<rect x="301" y="420" width="1" height="28" fill="#ff4500"/>
<rect x="299" y="435" width="5" height="11" fill="#ff4500"/>
<rect x="309" y="409" width="1" height="33" fill="#ff4500"/>
<rect x="307" y="428" width="5" height="9" fill="#ff4500"/>
<rect x="317" y="422" width="1" height="11" fill="#ff4500"/>
<rect x="315" y="426" width="5" height="2" fill="#ff4500"/>
<rect x="325" y="407" width="1" height="30" fill="#ff4500"/>
<rect x="323" y="417" width="5" height="9" fill="#ff4500"/>
<rect x="333" y="403" width="1" height="41" fill="#32cd32"/>
<rect x="331" y="417" width="5" height="4" fill="#32cd32"/>
<rect x="341" y="408" width="1" height="45" fill="#32cd32"/>
<rect x="339" y="422" width="5" height="7" fill="#32cd32"/>
<rect x="349" y="413" width="1" height="23" fill="#ff4500"/>
<rect x="347" y="424" width="5" height="5" fill="#ff4500"/>
<rect x="357" y="392" width="1" height="38" fill="#ff4500"/>
<rect x="355" y="396" width="5" height="30" fill="#ff4500"/>
<rect x="365" y="393" width="1" height="11" fill="#32cd32"/>
<rect x="363" y="396" width="5" height="1" fill="#32cd32"/>
<rect x="373" y="381" width="1" height="28" fill="#ff4500"/>
<rect x="371" y="388" width="5" height="12" fill="#ff4500"/>
<rect x="381" y="345" width="1" height="52" fill="#ff4500"/>
<rect x="379" y="351" width="5" height="39" fill="#ff4500"/>
<rect x="389" y="343" width="1" height="30" fill="#32cd32"/>
<rect x="387" y="350" width="5" height="11" fill="#32cd32"/>
<rect x="397" y="358" width="1" height="21" fill="#32cd32"/>
<rect x="395" y="359" width="5" height="6" fill="#32cd32"/>
<rect x="405" y="364" width="1" height="14" fill="#32cd32"/>
<rect x="403" y="372" width="5" height="4" fill="#32cd32"/>
<rect x="413" y="370" width="1" height="16" fill="#32cd32"/>
<rect x="411" y="376" width="5" height="3" fill="#32cd32"/>
<rect x="421" y="374" width="1" height="20" fill="#32cd32"/>
<rect x="419" y="379" width="5" height="9" fill="#32cd32"/>
<rect x="429" y="385" width="1" height="17" fill="#32cd32"/>
<rect x="427" y="386" width="5" height="8" fill="#32cd32"/>
<rect x="437" y="386" width="1" height="66" fill="#32cd32"/>
<rect x="435" y="393" width="5" height="48" fill="#32cd32"/>
<rect x="445" y="415" width="1" height="47" fill="#ff4500"/>
<rect x="443" y="420" width="5" height="22" fill="#ff4500"/>
<rect x="453" y="413" width="1" height="18" fill="#32cd32"/>
<rect x="451" y="420" width="5" height="11" fill="#32cd32"/>
<rect x="461" y="429" width="1" height="19" fill="#32cd32"/>
<rect x="459" y="429" width="5" height="9" fill="#32cd32"/>
<rect x="469" y="420" width="1" height="19" fill="#ff4500"/>
<rect x="467" y="432" width="5" height="7" fill="#ff4500"/>
<rect x="477" y="413" width="1" height="26" fill="#ff4500"/>
<rect x="475" y="414" width="5" height="18" fill="#ff4500"/>
<rect x="485" y="396" width="1" height="50" fill="#32cd32"/>
<rect x="483" y="413" width="5" height="27" fill="#32cd32"/>
<rect x="493" y="410" width="1" height="34" fill="#ff4500"/>
<rect x="491" y="432" width="5" height="9" fill="#ff4500"/>
<rect x="501" y="395" width="1" height="41" fill="#ff4500"/>
<rect x="499" y="408" width="5" height="25" fill="#ff4500"/>
<rect x="509" y="404" width="1" height="22" fill="#ff4500"/>
<rect x="507" y="407" width="5" height="3" fill="#ff4500"/>
<rect x="517" y="405" width="1" height="24" fill="#32cd32"/>
<rect x="515" y="407" width="5" height="12" fill="#32cd32"/>
<rect x="525" y="399" width="1" height="23" fill="#ff4500"/>
<rect x="523" y="399" width="5" height="19" fill="#ff4500"/>
<rect x="533" y="380" width="1" height="23" fill="#ff4500"/>
<rect x="531" y="390" width="5" height="9" fill="#ff4500"/>
<rect x="541" y="302" width="1" height="88" fill="#ff4500"/>
<rect x="539" y="303" width="5" height="87" fill="#ff4500"/>
<rect x="549" y="303" width="1" height="36" fill="#32cd32"/>
<rect x="547" y="303" width="5" height="5" fill="#32cd32"/>
<rect x="557" y="297" width="1" height="26" fill="#ff4500"/>
<rect x="555" y="300" width="5" height="8" fill="#ff4500"/>
<rect x="565" y="297" width="1" height="18" fill="#32cd32"/>
<rect x="563" y="300" width="5" height="9" fill="#32cd32"/>
<rect x="573" y="301" width="1" height="22" fill="#000000"/>
<rect x="571" y="311" width="5" height="1" fill="#000000"/>
<rect x="581" y="282" width="1" height="54" fill="#ff4500"/>
<rect x="579" y="292" width="5" height="18" fill="#ff4500"/>
<rect x="589" y="259" width="1" height="36" fill="#ff4500"/>
<rect x="587" y="276" width="5" height="17" fill="#ff4500"/>
<rect x="597" y="247" width="1" height="47" fill="#ff4500"/>
<rect x="595" y="267" width="5" height="11" fill="#ff4500"/>
<rect x="605" y="250" width="1" height="25" fill="#32cd32"/>
<rect x="603" y="266" width="5" height="2" fill="#32cd32"/>
<rect x="613" y="258" width="1" height="18" fill="#ff4500"/>
<rect x="611" y="261" width="5" height="8" fill="#ff4500"/>
<rect x="621" y="259" width="1" height="16" fill="#32cd32"/>
<rect x="619" y="262" width="5" height="11" fill="#32cd32"/>
<rect x="629" y="240" width="1" height="47" fill="#ff4500"/>
<rect x="627" y="265" width="5" height="8" fill="#ff4500"/>
<rect x="637" y="244" width="1" height="42" fill="#32cd32"/>
<rect x="635" y="266" width="5" height="16" fill="#32cd32"/>
<rect x="645" y="263" width="1" height="26" fill="#ff4500"/>
<rect x="643" y="266" width="5" height="17" fill="#ff4500"/>
<rect x="653" y="269" width="1" height="14" fill="#ff4500"/>
<rect x="651" y="271" width="5" height="8" fill="#ff4500"/>
<rect x="661" y="256" width="1" height="15" fill="#ff4500"/>
<rect x="659" y="263" width="5" height="8" fill="#ff4500"/>
<rect x="669" y="263" width="1" height="12" fill="#32cd32"/>
<rect x="667" y="264" width="5" height="8" fill="#32cd32"/>
<rect x="677" y="256" width="1" height="21" fill="#ff4500"/>
<rect x="675" y="266" width="5" height="6" fill="#ff4500"/>
<rect x="685" y="259" width="1" height="26" fill="#000000"/>
<rect x="683" y="266" width="5" height="1" fill="#000000"/>
<rect x="693" y="233" width="1" height="33" fill="#ff4500"/>
<rect x="691" y="236" width="5" height="30" fill="#ff4500"/>
<rect x="701" y="219" width="1" height="23" fill="#ff4500"/>
<rect x="699" y="231" width="5" height="6" fill="#ff4500"/>
<rect x="709" y="226" width="1" height="14" fill="#32cd32"/>
<rect x="707" y="231" width="5" height="5" fill="#32cd32"/>
<rect x="717" y="230" width="1" height="8" fill="#ff4500"/>
<rect x="715" y="233" width="5" height="2" fill="#ff4500"/>
<rect x="725" y="211" width="1" height="26" fill="#ff4500"/>
<rect x="723" y="215" width="5" height="19" fill="#ff4500"/>
<rect x="733" y="192" width="1" height="27" fill="#ff4500"/>
<rect x="731" y="192" width="5" height="24" fill="#ff4500"/>
<rect x="741" y="190" width="1" height="35" fill="#32cd32"/>
<rect x="739" y="192" width="5" height="5" fill="#32cd32"/>
<rect x="749" y="189" width="1" height="17" fill="#32cd32"/>
<rect x="747" y="196" width="5" height="7" fill="#32cd32"/>
<rect x="757" y="195" width="1" height="12" fill="#ff4500"/>
<rect x="755" y="199" width="5" height="6" fill="#ff4500"/>
<rect x="765" y="199" width="1" height="16" fill="#32cd32"/>
<rect x="763" y="200" width="5" height="15" fill="#32cd32"/>
<rect x="773" y="207" width="1" height="13" fill="#ff4500"/>
<rect x="771" y="211" width="5" height="3" fill="#ff4500"/>
<rect x="781" y="191" width="1" height="34" fill="#ff4500"/>
<rect x="779" y="198" width="5" height="14" fill="#ff4500"/>
<rect x="789" y="193" width="1" height="25" fill="#32cd32"/>
<rect x="787" y="197" width="5" height="12" fill="#32cd32"/>
<rect x="797" y="201" width="1" height="14" fill="#32cd32"/>
<rect x="795" y="209" width="5" height="2" fill="#32cd32"/>
<rect x="805" y="208" width="1" height="17" fill="#32cd32"/>
<rect x="803" y="209" width="5" height="12" fill="#32cd32"/>
<rect x="813" y="217" width="1" height="12" fill="#32cd32"/>
<rect x="811" y="220" width="5" height="9" fill="#32cd32"/>
<rect x="821" y="217" width="1" height="37" fill="#32cd32"/>
<rect x="819" y="227" width="5" height="24" fill="#32cd32"/>
<rect x="829" y="234" width="1" height="42" fill="#32cd32"/>
<rect x="827" y="249" width="5" height="26" fill="#32cd32"/>
<rect x="837" y="269" width="1" height="43" fill="#32cd32"/>
<rect x="835" y="274" width="5" height="15" fill="#32cd32"/>
<rect x="845" y="264" width="1" height="31" fill="#ff4500"/>
<rect x="843" y="283" width="5" height="5" fill="#ff4500"/>
<rect x="853" y="277" width="1" height="25" fill="#32cd32"/>
<rect x="851" y="282" width="5" height="13" fill="#32cd32"/>
<rect x="861" y="287" width="1" height="14" fill="#32cd32"/>
<rect x="859" y="294" width="5" height="1" fill="#32cd32"/>
<rect x="869" y="279" width="1" height="29" fill="#32cd32"/>
<rect x="867" y="295" width="5" height="10" fill="#32cd32"/>
<rect x="877" y="285" width="1" height="33" fill="#32cd32"/>
<rect x="875" y="305" width="5" height="7" fill="#32cd32"/>
<rect x="885" y="275" width="1" height="49" fill="#ff4500"/>
<rect x="883" y="281" width="5" height="30" fill="#ff4500"/>
<rect x="893" y="258" width="1" height="27" fill="#ff4500"/>
<rect x="891" y="263" width="5" height="20" fill="#ff4500"/>
<rect x="901" y="248" width="1" height="15" fill="#32cd32"/>
<rect x="899" y="251" width="5" height="12" fill="#32cd32"/>
<rect x="909" y="260" width="1" height="17" fill="#32cd32"/>
<rect x="907" y="262" width="5" height="5" fill="#32cd32"/>
<rect x="917" y="263" width="1" height="12" fill="#ff4500"/>
<rect x="915" y="263" width="5" height="3" fill="#ff4500"/>
<rect x="925" y="226" width="1" height="43" fill="#ff4500"/>
<rect x="923" y="246" width="5" height="19" fill="#ff4500"/>
<rect x="933" y="228" width="1" height="36" fill="#32cd32"/>
<rect x="931" y="246" width="5" height="13" fill="#32cd32"/>
<rect x="941" y="249" width="1" height="23" fill="#32cd32"/>
<rect x="939" y="255" width="5" height="10" fill="#32cd32"/>
<rect x="949" y="251" width="1" height="15" fill="#ff4500"/>
<rect x="947" y="256" width="5" height="10" fill="#ff4500"/>
<rect x="957" y="220" width="1" height="39" fill="#ff4500"/>
<rect x="955" y="221" width="5" height="37" fill="#ff4500"/>
<rect x="965" y="218" width="1" height="12" fill="#ff4500"/>
<rect x="963" y="219" width="5" height="3" fill="#ff4500"/>
<rect x="973" y="210" width="1" height="15" fill="#ff4500"/>
<rect x="971" y="211" width="5" height="8" fill="#ff4500"/>
<rect x="981" y="185" width="1" height="31" fill="#ff4500"/>
<rect x="979" y="187" width="5" height="25" fill="#ff4500"/>
<rect x="989" y="164" width="1" height="23" fill="#ff4500"/>
<rect x="987" y="172" width="5" height="15" fill="#ff4500"/>
<rect x="997" y="165" width="1" height="15" fill="#ff4500"/>
<rect x="995" y="166" width="5" height="7" fill="#ff4500"/>
<rect x="1005" y="147" width="1" height="22" fill="#ff4500"/>
<rect x="1003" y="149" width="5" height="19" fill="#ff4500"/>
<rect x="1013" y="143" width="1" height="11" fill="#32cd32"/>
<rect x="1011" y="148" width="5" height="4" fill="#32cd32"/>
<rect x="1021" y="150" width="1" height="17" fill="#32cd32"/>
<rect x="1019" y="151" width="5" height="4" fill="#32cd32"/>
<rect x="1029" y="131" width="1" height="33" fill="#ff4500"/>
<rect x="1027" y="139" width="5" height="17" fill="#ff4500"/>
<rect x="1037" y="133" width="1" height="31" fill="#32cd32"/>
<rect x="1035" y="138" width="5" height="6" fill="#32cd32"/>
<rect x="1045" y="136" width="1" height="31" fill="#32cd32"/>
<rect x="1043" y="144" width="5" height="14" fill="#32cd32"/>
<rect x="1053" y="146" width="1" height="24" fill="#ff4500"/>
<rect x="1051" y="146" width="5" height="12" fill="#ff4500"/>
<rect x="1061" y="128" width="1" height="27" fill="#ff4500"/>
<rect x="1059" y="132" width="5" height="16" fill="#ff4500"/>
<rect x="1069" y="130" width="1" height="19" fill="#32cd32"/>
<rect x="1067" y="131" width="5" height="11" fill="#32cd32"/>
<rect x="1077" y="134" width="1" height="72" fill="#32cd32"/>
<rect x="1075" y="141" width="5" height="39" fill="#32cd32"/>
<rect x="1085" y="147" width="1" height="45" fill="#ff4500"/>
<rect x="1083" y="159" width="5" height="20" fill="#ff4500"/>
<rect x="1093" y="140" width="1" height="45" fill="#32cd32"/>
<rect x="1091" y="159" width="5" height="18" fill="#32cd32"/>
<rect x="1101" y="175" width="1" height="25" fill="#32cd32"/>
<rect x="1099" y="175" width="5" height="22" fill="#32cd32"/>
<rect x="1109" y="195" width="1" height="15" fill="#32cd32"/>
<rect x="1107" y="196" width="5" height="10" fill="#32cd32"/>
<rect x="1117" y="160" width="1" height="46" fill="#ff4500"/>
<rect x="1115" y="171" width="5" height="34" fill="#ff4500"/>
<rect x="1125" y="105" width="1" height="67" fill="#ff4500"/>
<rect x="1123" y="119" width="5" height="52" fill="#ff4500"/>
<rect x="1133" y="107" width="1" height="22" fill="#ff4500"/>
<rect x="1131" y="109" width="5" height="11" fill="#ff4500"/>
<rect x="1141" y="94" width="1" height="26" fill="#ff4500"/>
<rect x="1139" y="95" width="5" height="15" fill="#ff4500"/>
<rect x="1149" y="83" width="1" height="14" fill="#32cd32"/>
<rect x="1147" y="89" width="5" height="3" fill="#32cd32"/>
<rect x="1157" y="87" width="1" height="15" fill="#32cd32"/>
<rect x="1155" y="92" width="5" height="2" fill="#32cd32"/>
<rect x="1165" y="90" width="1" height="9" fill="#32cd32"/>
<rect x="1163" y="93" width="5" height="3" fill="#32cd32"/>
<rect x="1173" y="92" width="1" height="12" fill="#32cd32"/>
<rect x="1171" y="96" width="5" height="4" fill="#32cd32"/>
<rect x="1181" y="92" width="1" height="9" fill="#ff4500"/>
<rect x="1179" y="96" width="5" height="4" fill="#ff4500"/>
<rect x="1189" y="93" width="1" height="9" fill="#32cd32"/>
<rect x="1187" y="96" width="5" height="5" fill="#32cd32"/>
<rect x="1197" y="93" width="1" height="7" fill="#32cd32"/>
<rect x="1195" y="94" width="5" height="5" fill="#32cd32"/>
<rect x="1205" y="87" width="1" height="15" fill="#ff4500"/>
<rect x="1203" y="96" width="5" height="2" fill="#ff4500"/>
<rect x="1213" y="93" width="1" height="8" fill="#32cd32"/>
<rect x="1211" y="96" width="5" height="4" fill="#32cd32"/>
<rect x="1221" y="93" width="1" height="27" fill="#32cd32"/>
<rect x="1219" y="98" width="5" height="19" fill="#32cd32"/>
<rect x="1229" y="94" width="1" height="28" fill="#ff4500"/>
<rect x="1227" y="103" width="5" height="14" fill="#ff4500"/>
<rect x="1237" y="70" width="1" height="34" fill="#ff4500"/>
<rect x="1235" y="71" width="5" height="33" fill="#ff4500"/>
<rect x="1245" y="71" width="1" height="27" fill="#32cd32"/>
<rect x="1243" y="72" width="5" height="21" fill="#32cd32"/>
<rect x="1253" y="90" width="1" height="4" fill="#ff4500"/>
<rect x="1251" y="92" width="5" height="2" fill="#ff4500"/>
<rect x="1261" y="83" width="1" height="18" fill="#32cd32"/>
<rect x="1259" y="91" width="5" height="8" fill="#32cd32"/>
<rect x="1269" y="87" width="1" height="13" fill="#ff4500"/>
<rect x="1267" y="96" width="5" height="2" fill="#ff4500"/>
<rect x="1277" y="86" width="1" height="18" fill="#ff4500"/>
<rect x="1275" y="95" width="5" height="1" fill="#ff4500"/>
<rect x="1285" y="75" width="1" height="25" fill="#ff4500"/>
<rect x="1283" y="82" width="5" height="13" fill="#ff4500"/>
<rect x="1293" y="63" width="1" height="40" fill="#ff4500"/>
<rect x="1291" y="74" width="5" height="8" fill="#ff4500"/>
<rect x="1301" y="69" width="1" height="14" fill="#ff4500"/>
<rect x="1299" y="71" width="5" height="4" fill="#ff4500"/>
<rect x="12" y="38" width="1627" height="1" fill="#000"/>
<rect x="12" y="535" width="1627" height="1" fill="#000"/>
<rect x="12" y="38" width="1" height="498" fill="#000"/>
<rect x="1638" y="38" width="1" height="498" fill="#000"/>
<rect x="12" y="537" width="1627" height="1" fill="#000"/>
<rect x="12" y="599" width="1627" height="1" fill="#000"/>
<rect x="12" y="537" width="1" height="63" fill="#000"/>
<rect x="1638" y="537" width="1" height="63" fill="#000"/>
<rect x="12" y="601" width="1627" height="1" fill="#000"/>
<rect x="12" y="730" width="1627" height="1" fill="#000"/>
<rect x="12" y="601" width="1" height="130" fill="#000"/>
<rect x="1638" y="601" width="1" height="130" fill="#000"/>
<rect x="13" y="731" width="1" height="3" fill="#000"/>
<rect x="109" y="731" width="1" height="3" fill="#000"/>
<rect x="205" y="731" width="1" height="3" fill="#000"/>
<rect x="301" y="731" width="1" height="3" fill="#000"/>
<rect x="397" y="731" width="1" height="3" fill="#000"/>
<rect x="493" y="731" width="1" height="3" fill="#000"/>
<rect x="589" y="731" width="1" height="3" fill="#000"/>
<rect x="685" y="731" width="1" height="3" fill="#000"/>
<rect x="781" y="731" width="1" height="3" fill="#000"/>
<rect x="877" y="731" width="1" height="3" fill="#000"/>
<rect x="973" y="731" width="1" height="3" fill="#000"/>
<rect x="1069" y="731" width="1" height="3" fill="#000"/>
<rect x="1165" y="731" width="1" height="3" fill="#000"/>
<rect x="1261" y="731" width="1" height="3" fill="#000"/>
<rect x="1639" y="75" width="2" height="1" fill="#000"/>
<rect x="1639" y="124" width="2" height="1" fill="#000"/>
<rect x="1639" y="173" width="2" height="1" fill="#000"/>
<rect x="1639" y="222" width="2" height="1" fill="#000"/>
<rect x="1639" y="271" width="2" height="1" fill="#000"/>
<rect x="1639" y="320" width="2" height="1" fill="#000"/>
<rect x="1639" y="369" width="2" height="1" fill="#000"/>
<rect x="1639" y="418" width="2" height="1" fill="#000"/>
<rect x="1639" y="467" width="2" height="1" fill="#000"/>
<rect x="1639" y="516" width="2" height="1" fill="#000"/>
<rect x="1639" y="586" width="2" height="1" fill="#000"/>
<rect x="1639" y="641" width="2" height="1" fill="#000"/>
<rect x="1639" y="691" width="2" height="1" fill="#000"/>
<rect x="1639" y="538" width="1" height="1" fill="#000"/>
<rect x="1639" y="602" width="1" height="1" fill="#000"/>
<rect x="1639" y="729" width="1" height="1" fill="#000"/>
<polygon points="1306,40 1318,40 1312,46" fill="#c0c0c0"/>
</svg>
<div class="t ax" style="left:1645px;top:68px;font-size:12px;color:#000;">2784.760</div>
<div class="t ax" style="left:1645px;top:118px;font-size:12px;color:#000;">2764.180</div>
<div class="t ax" style="left:1645px;top:167px;font-size:12px;color:#000;">2743.600</div>
<div class="t ax" style="left:1645px;top:216px;font-size:12px;color:#000;">2723.020</div>
<div class="t ax" style="left:1645px;top:265px;font-size:12px;color:#000;">2702.440</div>
<div class="t ax" style="left:1645px;top:314px;font-size:12px;color:#000;">2681.440</div>
<div class="t ax" style="left:1645px;top:363px;font-size:12px;color:#000;">2660.860</div>
<div class="t ax" style="left:1645px;top:412px;font-size:12px;color:#000;">2640.280</div>
<div class="t ax" style="left:1645px;top:461px;font-size:12px;color:#000;">2619.700</div>
<div class="t ax" style="left:1645px;top:510px;font-size:12px;color:#000;">2599.120</div>
<div class="bx" style="top:64px;height:14px;background:#000"><span>2786.500</span></div>
<div class="bx" style="top:125px;height:14px;background:#00ff7f"><span>2761.557</span></div>
<div class="bx" style="top:198px;height:14px;background:#0000ff"><span>2730.607</span></div>
<div class="bx" style="top:306px;height:14px;background:#0000ff"><span>2685.000</span></div>
<div class="t ax" style="left:1643px;top:540px;font-size:12px;color:#000;">21.0133</div>
<div class="t ax" style="left:1643px;top:580px;font-size:12px;color:#000;">0.00</div>
<div class="t ax" style="left:1643px;top:585px;font-size:12px;color:#000;">-5.3023</div>
<div class="t ax" style="left:1643px;top:604px;font-size:12px;color:#000;">100</div>
<div class="t ax" style="left:1642px;top:635px;font-size:12px;color:#000;">70</div>
<div class="t ax" style="left:1642px;top:685px;font-size:12px;color:#000;">30</div>
<div class="t ax" style="left:1643px;top:716px;font-size:12px;color:#000;">0</div>
<div class="t ax" style="left:31px;top:42px;font-size:12px;color:#000;letter-spacing:0">SP500-,H4</div>
<div class="t ax" style="left:97.5px;top:42px;font-size:12px;color:#000;">2785.500</div>
<div class="t ax" style="left:154.5px;top:42px;font-size:12px;color:#000;">2787.500</div>
<div class="t ax" style="left:211.5px;top:42px;font-size:12px;color:#000;">2782.250</div>
<div class="t ax" style="left:268.5px;top:42px;font-size:12px;color:#000;">2786.500</div>
<div class="t ax" style="left:17px;top:542px;font-size:12px;color:#000;letter-spacing:0.1px">MACD(12,26,9)</div>
<div class="t ax" style="left:106px;top:542px;font-size:12px;color:#000;">7.6916</div>
<div class="t ax" style="left:148.6px;top:542px;font-size:12px;color:#000;">8.4343</div>
<div class="t ax" style="left:17px;top:606px;font-size:12px;color:#000;">RSI(14)</div>
<div class="t ax" style="left:63px;top:606px;font-size:12px;color:#000;">64.9947</div>
<div class="t " style="left:13px;top:735px;font-size:12px;color:#000;letter-spacing:0.12px">16 Jan 2019</div>
<div class="t " style="left:109px;top:735px;font-size:12px;color:#000;letter-spacing:0.12px">18 Jan 00:00</div>
<div class="t " style="left:205px;top:735px;font-size:12px;color:#000;letter-spacing:0.12px">21 Jan 23:00</div>
<div class="t " style="left:301px;top:735px;font-size:12px;color:#000;letter-spacing:0.12px">23 Jan 20:00</div>
<div class="t " style="left:397px;top:735px;font-size:12px;color:#000;letter-spacing:0.12px">25 Jan 20:00</div>
<div class="t " style="left:493px;top:735px;font-size:12px;color:#000;letter-spacing:0.12px">29 Jan 16:00</div>
<div class="t " style="left:589px;top:735px;font-size:12px;color:#000;letter-spacing:0.12px">31 Jan 16:00</div>
<div class="t " style="left:685px;top:735px;font-size:12px;color:#000;letter-spacing:0.12px">4 Feb 12:00</div>
<div class="t " style="left:781px;top:735px;font-size:12px;color:#000;letter-spacing:0.12px">6 Feb 12:00</div>
<div class="t " style="left:877px;top:735px;font-size:12px;color:#000;letter-spacing:0.12px">8 Feb 12:00</div>
<div class="t " style="left:973px;top:735px;font-size:12px;color:#000;letter-spacing:0.12px">12 Feb 08:00</div>
<div class="t " style="left:1069px;top:735px;font-size:12px;color:#000;letter-spacing:0.12px">14 Feb 08:00</div>
<div class="t " style="left:1165px;top:735px;font-size:12px;color:#000;letter-spacing:0.12px">18 Feb 04:00</div>
<div class="t " style="left:1261px;top:735px;font-size:12px;color:#000;letter-spacing:0.12px">20 Feb 00:00</div>
<div class="abs" style="left:14px;top:59px;width:287px;height:79px;background:#fff"></div>
<div class="abs" style="left:16px;top:61px;width:68px;height:27px;background:linear-gradient(#5a5afa,#4343ea)"></div>
<div class="abs" style="left:231px;top:61px;width:68px;height:27px;background:linear-gradient(#5a5afa,#4343ea)"></div>
<div class="abs" style="left:84px;top:61px;width:147px;height:27px;background:#fff"></div>
<div class="abs" style="left:86px;top:61px;width:141px;height:23px;border:1px solid #a3a3ab;background:#fff"></div>
<div class="abs" style="left:88px;top:63px;width:22px;height:21px;background:linear-gradient(#ececec 0%,#e4e4e4 45%,#d4d4d4 50%,#d0d0d0 100%)"></div>
<div class="abs" style="left:110px;top:62px;width:1px;height:23px;background:#a3a3ab"></div>
<div class="abs" style="left:206px;top:63px;width:22px;height:21px;background:linear-gradient(#ececec 0%,#e4e4e4 45%,#d4d4d4 50%,#d0d0d0 100%)"></div>
<div class="abs" style="left:204px;top:62px;width:1px;height:23px;background:#a3a3ab"></div>
<svg class="abs" style="left:0;top:0" width="320" height="140"><polygon points="94.5,72 102.5,72 98.5,76.5" fill="#5566b8"/><polygon points="212.5,75.5 220.5,75.5 216.5,71" fill="#5566b8"/></svg>
<div class="t" style="left:150px;top:65px;width:51px;text-align:right;font-size:15.5px;line-height:18px;color:#000">1.00</div>
<div class="abs" style="left:16px;top:88px;width:141px;height:49px;background:linear-gradient(#3d3de2,#0000a2)"></div>
<div class="abs" style="left:159px;top:88px;width:140px;height:49px;background:linear-gradient(#3d3de2,#0000a2)"></div>
<div class="abs" style="left:16px;top:61px;width:1px;height:76px;background:rgba(0,0,110,0.5)"></div>
<div class="abs" style="left:17px;top:61px;width:67px;height:1px;background:rgba(0,0,110,0.5)"></div>
<div class="abs" style="left:83px;top:62px;width:1px;height:26px;background:rgba(0,0,110,0.5)"></div>
<div class="abs" style="left:84px;top:88px;width:73px;height:1px;background:rgba(0,0,110,0.5)"></div>
<div class="abs" style="left:156px;top:89px;width:1px;height:48px;background:rgba(0,0,110,0.5)"></div>
<div class="abs" style="left:17px;top:136px;width:139px;height:1px;background:rgba(0,0,110,0.5)"></div>
<div class="abs" style="left:298px;top:61px;width:1px;height:76px;background:rgba(0,0,110,0.5)"></div>
<div class="abs" style="left:231px;top:61px;width:67px;height:1px;background:rgba(0,0,110,0.5)"></div>
<div class="abs" style="left:231px;top:62px;width:1px;height:26px;background:rgba(0,0,110,0.5)"></div>
<div class="abs" style="left:159px;top:88px;width:72px;height:1px;background:rgba(0,0,110,0.5)"></div>
<div class="abs" style="left:159px;top:89px;width:1px;height:48px;background:rgba(0,0,110,0.5)"></div>
<div class="abs" style="left:160px;top:136px;width:138px;height:1px;background:rgba(0,0,110,0.5)"></div>
<div class="abs" style="left:20px;top:87px;width:60px;height:1px;background:#1a1ab4"></div>
<div class="abs" style="left:235px;top:87px;width:60px;height:1px;background:#1a1ab4"></div>
<div class="abs" style="left:20px;top:88px;width:60px;height:1px;background:#7272f0"></div>
<div class="abs" style="left:235px;top:88px;width:60px;height:1px;background:#7272f0"></div>
<div class="t" style="left:32px;top:66px;font-size:14.5px;line-height:18px;color:#fff">SELL</div>
<div class="t" style="left:249px;top:66px;font-size:14.5px;line-height:18px;color:#fff">BUY</div>
<div class="t" style="left:37px;top:113.5px;font-size:14px;line-height:16px;color:#fff;font-weight:bold;letter-spacing:1.3px">2786</div>
<div class="t" style="left:179px;top:113.5px;font-size:14px;line-height:16px;color:#fff;font-weight:bold;letter-spacing:1.3px">2787</div>
<div class="t" style="left:75.5px;top:88px;font-size:41.5px;line-height:46px;color:#fff;letter-spacing:-1px">48</div>
<div class="t" style="left:220px;top:88px;font-size:41.5px;line-height:46px;color:#fff;letter-spacing:-1px">26</div>
<div class="t" style="left:126.5px;top:95.5px;font-size:14px;line-height:16px;color:#fff;font-weight:bold">5</div>
<div class="t" style="left:270px;top:95.5px;font-size:14px;line-height:16px;color:#fff;font-weight:bold">5</div>
<svg class="abs" style="left:14px;top:44px" width="14" height="10"><polygon points="1.5,7 11.5,7 6.5,2.2" fill="#000"/></svg>
<svg class="abs" style="left:0;top:0" width="480" height="34"><line x1="12" y1="9.5" x2="29" y2="9.5" stroke="#6e6e6e" stroke-width="1.4" stroke-dasharray="1.3,1"/><line x1="12" y1="14.5" x2="29" y2="14.5" stroke="#6e6e6e" stroke-width="1.4" stroke-dasharray="1.3,1"/><line x1="12" y1="19.5" x2="29" y2="19.5" stroke="#6e6e6e" stroke-width="1.4" stroke-dasharray="1.3,1"/><line x1="12" y1="24.5" x2="23" y2="24.5" stroke="#6e6e6e" stroke-width="1.4" stroke-dasharray="1.3,1"/><path d="M25.5,29.5 V23.5 H30 M25.5,26.5 H29" stroke="#555" stroke-width="1.6" fill="none"/><rect x="82.5" y="11" width="13.5" height="15.5" fill="none" stroke="#6e6e6e" stroke-width="1.1" stroke-dasharray="1.2,1.2"/><path d="M85,15 H94 M89.5,15 V24.5" stroke="#7a7a7a" stroke-width="2" fill="none"/><polygon points="115,15 119.5,10.5 124,15 119.5,16.5" fill="#6e6e6e"/><polygon points="123.5,22.5 132,22.5 128,27" fill="#6e6e6e"/><path d="M117.5,20 L120,22.5 L125.5,16" stroke="#6e6e6e" stroke-width="1.6" fill="none"/><path fill-rule="evenodd" fill="#7a7a7a" d="M50,25 L54.1,13 L56.3,13 L60.4,25 L58.1,25 L57.1,22 L53.3,22 L52.3,25 Z M53.9,20.1 L56.5,20.1 L55.2,15.6 Z"/><polygon points="138,17 145.5,17 141.75,21" fill="#000"/><rect x="153" y="3" width="1" height="31" fill="#a0a0a0"/><rect x="157" y="5" width="3" height="1" fill="#a8a8a8"/><rect x="157" y="7" width="3" height="1" fill="#a8a8a8"/><rect x="157" y="9" width="3" height="1" fill="#a8a8a8"/><rect x="157" y="11" width="3" height="1" fill="#a8a8a8"/><rect x="157" y="13" width="3" height="1" fill="#a8a8a8"/><rect x="157" y="15" width="3" height="1" fill="#a8a8a8"/><rect x="157" y="17" width="3" height="1" fill="#a8a8a8"/><rect x="157" y="19" width="3" height="1" fill="#a8a8a8"/><rect x="157" y="21" width="3" height="1" fill="#a8a8a8"/><rect x="157" y="23" width="3" height="1" fill="#a8a8a8"/><rect x="157" y="25" width="3" height="1" fill="#a8a8a8"/><rect x="157" y="27" width="3" height="1" fill="#a8a8a8"/><rect x="157" y="29" width="3" height="1" fill="#a8a8a8"/><rect x="157" y="31" width="3" height="1" fill="#a8a8a8"/><rect x="468" y="3" width="1" height="31" fill="#a0a0a0"/><rect x="333.5" y="3.5" width="30" height="28" fill="#f8f8f8" stroke="#b4b4b4" stroke-width="1"/><rect x="334" y="31" width="30" height="1" fill="#fff"/><rect x="363" y="4" width="1" height="28" fill="#fff"/></svg>
<div class="t" style="left:170px;top:11.2px;font-size:12.5px;line-height:16px;color:#505050;transform:scaleX(0.92);transform-origin:0 0">M1</div>
<div class="t" style="left:204px;top:11.2px;font-size:12.5px;line-height:16px;color:#505050;transform:scaleX(0.92);transform-origin:0 0">M5</div>
<div class="t" style="left:236px;top:11.2px;font-size:12.5px;line-height:16px;color:#505050;transform:scaleX(0.92);transform-origin:0 0">M15</div>
<div class="t" style="left:270px;top:11.2px;font-size:12.5px;line-height:16px;color:#505050;transform:scaleX(0.92);transform-origin:0 0">M30</div>
<div class="t" style="left:307px;top:11.2px;font-size:12.5px;line-height:16px;color:#505050;transform:scaleX(0.92);transform-origin:0 0">H1</div>
<div class="t" style="left:340px;top:11.2px;font-size:12.5px;line-height:16px;color:#505050;transform:scaleX(0.92);transform-origin:0 0">H4</div>
<div class="t" style="left:376px;top:11.2px;font-size:12.5px;line-height:16px;color:#505050;transform:scaleX(0.92);transform-origin:0 0">D1</div>
<div class="t" style="left:409px;top:11.2px;font-size:12.5px;line-height:16px;color:#505050;transform:scaleX(0.92);transform-origin:0 0">W1</div>
<div class="t" style="left:441px;top:11.2px;font-size:12.5px;line-height:16px;color:#505050;transform:scaleX(0.92);transform-origin:0 0">MN</div>
<svg class="abs" style="left:0;top:0" width="1707" height="758"><g fill="none" stroke="#ff2010" stroke-width="3.6" stroke-linecap="butt" stroke-linejoin="miter" stroke-miterlimit="2.2"><path d="M1239.8,399.4 H1263.5 C1252.5,408.5 1238,415.5 1222.9,419.6"/><path d="M1236.3,405.8 L1242.5,410.9"/><path d="M1247.6,417.5 H1264.6 C1259.5,428 1243,436.5 1224.0,439.4"/><path d="M1241.8,425.7 L1247.2,430.8"/><path d="M1292.9,392.9 L1296.5,398.5"/><path d="M1274.7,408.8 V400.8 H1315.3 V408.8"/><path d="M1289.8,406.4 L1272,418.3"/><path d="M1300.1,406.4 L1317.5,418.3"/><path d="M1277.5,420.1 H1311.9"/><path d="M1295.1,420.1 V436.1"/><path d="M1272.4,436.1 H1317.5"/><path d="M1321.2,401.2 H1341.8"/><path d="M1331.1,392.5 L1322.8,416.7 H1341.8"/><path d="M1333.4,406.4 V440.4"/><path d="M1321.2,430.9 L1342.5,425.8"/><path d="M1344.1,401.2 H1367.5"/><path d="M1341.8,410.3 H1369.1"/><path d="M1354,392.5 L1347.3,420.6 H1364.7 L1355.2,433.3"/><path d="M1345.7,428.2 L1361.9,438.8"/><path d="M1371.2,403.6 H1387.8"/><path d="M1379.9,392.9 V435 Q1379.9,438.2 1376.5,438.2 H1371.6"/><path d="M1371.2,421 L1387,415.5"/><path d="M1416.7,395.3 L1391.8,398.4 V416.7 Q1391.5,429 1385.8,439.6"/><path d="M1391.8,412.7 H1419.1"/><path d="M1408.4,412.7 V440.4"/><path d="M1444.5,392.1 V409.9"/><path d="M1444.5,399.9 H1468"/><path d="M1428.9,426.6 V409.9 H1462.2 V426.6"/><path d="M1428.9,422.8 H1462.2"/><path d="M1428.7,430.1 L1422.4,439.6"/><path d="M1437,428.9 L1441,439.2"/><path d="M1448.9,428.9 L1452.8,439.2"/><path d="M1461.2,428.9 L1466.7,439.6"/></g><g fill="#ff2010"><polygon points="1241.0,393.1 1246.5,393.1 1225.4,409.8 1222.9,407.2"/><polygon points="1248.7,412.3 1254.1,412.3 1227.3,430.1 1224.7,427.6"/></g></svg><div class="t" style="left:1470.3px;top:385.8px;font-size:53px;line-height:60px;letter-spacing:-0.45px;color:#ff2010">2760</div>
</body></html>
